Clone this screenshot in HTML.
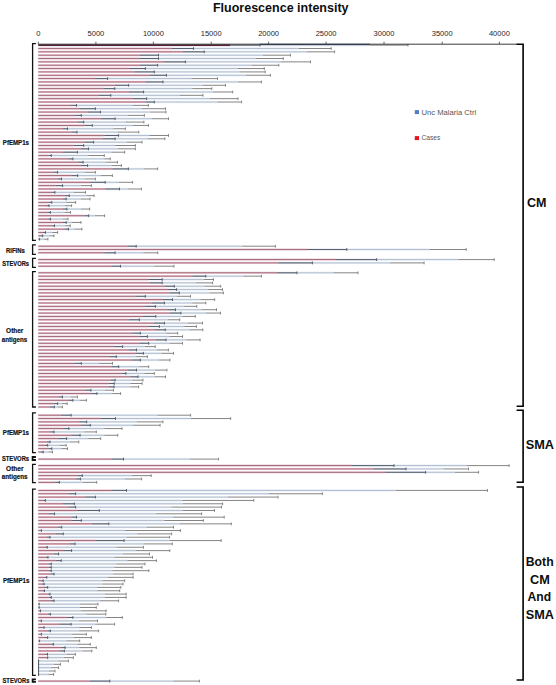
<!DOCTYPE html>
<html><head><meta charset="utf-8"><style>
html,body{margin:0;padding:0;background:#fff;}
body{width:556px;height:685px;overflow:hidden;position:relative;}
svg{position:absolute;left:0;top:0;}
.tk{font-family:"Liberation Sans",sans-serif;font-size:7px;fill:#262626;}
.lab{font-family:"Liberation Sans",sans-serif;font-weight:bold;font-size:6.7px;fill:#111;stroke:#111;stroke-width:0.18px;}
.big{font-family:"Liberation Sans",sans-serif;font-weight:bold;font-size:12.5px;fill:#0d0d0d;}
.leg{font-family:"Liberation Sans",sans-serif;font-size:7.9px;fill:#555;}
</style></head><body>
<svg width="556" height="685" viewBox="0 0 556 685">
<rect x="38.3" y="43.95" width="331.70" height="2.4" fill="#eaf0f8"/>
<rect x="38.3" y="44.70" width="331.70" height="0.9" fill="#adb9ca"/>
<rect x="38.3" y="47.29" width="260.70" height="2.4" fill="#eaf0f8"/>
<rect x="38.3" y="48.04" width="260.70" height="0.9" fill="#adb9ca"/>
<rect x="38.3" y="50.64" width="268.70" height="2.4" fill="#eaf0f8"/>
<rect x="38.3" y="51.39" width="268.70" height="0.9" fill="#adb9ca"/>
<rect x="38.3" y="53.98" width="224.70" height="2.4" fill="#eaf0f8"/>
<rect x="38.3" y="54.73" width="224.70" height="0.9" fill="#adb9ca"/>
<rect x="38.3" y="57.33" width="217.70" height="2.4" fill="#eaf0f8"/>
<rect x="38.3" y="58.08" width="217.70" height="0.9" fill="#adb9ca"/>
<rect x="38.3" y="60.67" width="242.70" height="2.4" fill="#eaf0f8"/>
<rect x="38.3" y="61.42" width="242.70" height="0.9" fill="#adb9ca"/>
<rect x="38.3" y="64.02" width="213.20" height="2.4" fill="#eaf0f8"/>
<rect x="38.3" y="64.77" width="213.20" height="0.9" fill="#adb9ca"/>
<rect x="38.3" y="67.36" width="199.70" height="2.4" fill="#eaf0f8"/>
<rect x="38.3" y="68.11" width="199.70" height="0.9" fill="#adb9ca"/>
<rect x="38.3" y="70.71" width="201.50" height="2.4" fill="#eaf0f8"/>
<rect x="38.3" y="71.46" width="201.50" height="0.9" fill="#adb9ca"/>
<rect x="38.3" y="74.05" width="207.70" height="2.4" fill="#eaf0f8"/>
<rect x="38.3" y="74.80" width="207.70" height="0.9" fill="#adb9ca"/>
<rect x="38.3" y="77.40" width="153.00" height="2.4" fill="#eaf0f8"/>
<rect x="38.3" y="78.15" width="153.00" height="0.9" fill="#adb9ca"/>
<rect x="38.3" y="80.74" width="199.70" height="2.4" fill="#eaf0f8"/>
<rect x="38.3" y="81.49" width="199.70" height="0.9" fill="#adb9ca"/>
<rect x="38.3" y="84.09" width="164.70" height="2.4" fill="#eaf0f8"/>
<rect x="38.3" y="84.84" width="164.70" height="0.9" fill="#adb9ca"/>
<rect x="38.3" y="87.43" width="153.90" height="2.4" fill="#eaf0f8"/>
<rect x="38.3" y="88.18" width="153.90" height="0.9" fill="#adb9ca"/>
<rect x="38.3" y="90.78" width="174.60" height="2.4" fill="#eaf0f8"/>
<rect x="38.3" y="91.53" width="174.60" height="0.9" fill="#adb9ca"/>
<rect x="38.3" y="94.12" width="141.30" height="2.4" fill="#eaf0f8"/>
<rect x="38.3" y="94.88" width="141.30" height="0.9" fill="#adb9ca"/>
<rect x="38.3" y="97.47" width="171.70" height="2.4" fill="#eaf0f8"/>
<rect x="38.3" y="98.22" width="171.70" height="0.9" fill="#adb9ca"/>
<rect x="38.3" y="100.81" width="179.10" height="2.4" fill="#eaf0f8"/>
<rect x="38.3" y="101.56" width="179.10" height="0.9" fill="#adb9ca"/>
<rect x="38.3" y="104.16" width="94.70" height="2.4" fill="#eaf0f8"/>
<rect x="38.3" y="104.91" width="94.70" height="0.9" fill="#adb9ca"/>
<rect x="38.3" y="107.51" width="103.70" height="2.4" fill="#eaf0f8"/>
<rect x="38.3" y="108.26" width="103.70" height="0.9" fill="#adb9ca"/>
<rect x="38.3" y="110.85" width="111.90" height="2.4" fill="#eaf0f8"/>
<rect x="38.3" y="111.60" width="111.90" height="0.9" fill="#adb9ca"/>
<rect x="38.3" y="114.20" width="89.40" height="2.4" fill="#eaf0f8"/>
<rect x="38.3" y="114.95" width="89.40" height="0.9" fill="#adb9ca"/>
<rect x="38.3" y="117.54" width="113.70" height="2.4" fill="#eaf0f8"/>
<rect x="38.3" y="118.29" width="113.70" height="0.9" fill="#adb9ca"/>
<rect x="38.3" y="120.89" width="87.60" height="2.4" fill="#eaf0f8"/>
<rect x="38.3" y="121.64" width="87.60" height="0.9" fill="#adb9ca"/>
<rect x="38.3" y="124.23" width="94.70" height="2.4" fill="#eaf0f8"/>
<rect x="38.3" y="124.98" width="94.70" height="0.9" fill="#adb9ca"/>
<rect x="38.3" y="127.58" width="75.00" height="2.4" fill="#eaf0f8"/>
<rect x="38.3" y="128.33" width="75.00" height="0.9" fill="#adb9ca"/>
<rect x="38.3" y="130.92" width="79.50" height="2.4" fill="#eaf0f8"/>
<rect x="38.3" y="131.67" width="79.50" height="0.9" fill="#adb9ca"/>
<rect x="38.3" y="134.27" width="111.00" height="2.4" fill="#eaf0f8"/>
<rect x="38.3" y="135.02" width="111.00" height="0.9" fill="#adb9ca"/>
<rect x="38.3" y="137.61" width="109.20" height="2.4" fill="#eaf0f8"/>
<rect x="38.3" y="138.36" width="109.20" height="0.9" fill="#adb9ca"/>
<rect x="38.3" y="140.96" width="88.50" height="2.4" fill="#eaf0f8"/>
<rect x="38.3" y="141.71" width="88.50" height="0.9" fill="#adb9ca"/>
<rect x="38.3" y="144.30" width="76.80" height="2.4" fill="#eaf0f8"/>
<rect x="38.3" y="145.05" width="76.80" height="0.9" fill="#adb9ca"/>
<rect x="38.3" y="147.65" width="79.70" height="2.4" fill="#eaf0f8"/>
<rect x="38.3" y="148.40" width="79.70" height="0.9" fill="#adb9ca"/>
<rect x="38.3" y="150.99" width="73.20" height="2.4" fill="#eaf0f8"/>
<rect x="38.3" y="151.74" width="73.20" height="0.9" fill="#adb9ca"/>
<rect x="38.3" y="154.34" width="49.90" height="2.4" fill="#eaf0f8"/>
<rect x="38.3" y="155.09" width="49.90" height="0.9" fill="#adb9ca"/>
<rect x="38.3" y="157.68" width="66.00" height="2.4" fill="#eaf0f8"/>
<rect x="38.3" y="158.43" width="66.00" height="0.9" fill="#adb9ca"/>
<rect x="38.3" y="161.03" width="67.70" height="2.4" fill="#eaf0f8"/>
<rect x="38.3" y="161.78" width="67.70" height="0.9" fill="#adb9ca"/>
<rect x="38.3" y="164.37" width="73.20" height="2.4" fill="#eaf0f8"/>
<rect x="38.3" y="165.12" width="73.20" height="0.9" fill="#adb9ca"/>
<rect x="38.3" y="167.72" width="105.70" height="2.4" fill="#eaf0f8"/>
<rect x="38.3" y="168.47" width="105.70" height="0.9" fill="#adb9ca"/>
<rect x="38.3" y="171.06" width="46.30" height="2.4" fill="#eaf0f8"/>
<rect x="38.3" y="171.81" width="46.30" height="0.9" fill="#adb9ca"/>
<rect x="38.3" y="174.41" width="62.40" height="2.4" fill="#eaf0f8"/>
<rect x="38.3" y="175.16" width="62.40" height="0.9" fill="#adb9ca"/>
<rect x="38.3" y="177.75" width="46.30" height="2.4" fill="#eaf0f8"/>
<rect x="38.3" y="178.50" width="46.30" height="0.9" fill="#adb9ca"/>
<rect x="38.3" y="181.10" width="80.40" height="2.4" fill="#eaf0f8"/>
<rect x="38.3" y="181.85" width="80.40" height="0.9" fill="#adb9ca"/>
<rect x="38.3" y="184.44" width="42.70" height="2.4" fill="#eaf0f8"/>
<rect x="38.3" y="185.19" width="42.70" height="0.9" fill="#adb9ca"/>
<rect x="38.3" y="187.79" width="89.60" height="2.4" fill="#eaf0f8"/>
<rect x="38.3" y="188.54" width="89.60" height="0.9" fill="#adb9ca"/>
<rect x="38.3" y="191.13" width="35.50" height="2.4" fill="#eaf0f8"/>
<rect x="38.3" y="191.88" width="35.50" height="0.9" fill="#adb9ca"/>
<rect x="38.3" y="194.48" width="48.10" height="2.4" fill="#eaf0f8"/>
<rect x="38.3" y="195.23" width="48.10" height="0.9" fill="#adb9ca"/>
<rect x="38.3" y="197.82" width="42.70" height="2.4" fill="#eaf0f8"/>
<rect x="38.3" y="198.57" width="42.70" height="0.9" fill="#adb9ca"/>
<rect x="38.3" y="201.17" width="28.30" height="2.4" fill="#eaf0f8"/>
<rect x="38.3" y="201.92" width="28.30" height="0.9" fill="#adb9ca"/>
<rect x="38.3" y="204.51" width="26.50" height="2.4" fill="#eaf0f8"/>
<rect x="38.3" y="205.26" width="26.50" height="0.9" fill="#adb9ca"/>
<rect x="38.3" y="207.86" width="42.70" height="2.4" fill="#eaf0f8"/>
<rect x="38.3" y="208.61" width="42.70" height="0.9" fill="#adb9ca"/>
<rect x="38.3" y="211.20" width="26.50" height="2.4" fill="#eaf0f8"/>
<rect x="38.3" y="211.95" width="26.50" height="0.9" fill="#adb9ca"/>
<rect x="38.3" y="214.55" width="56.70" height="2.4" fill="#eaf0f8"/>
<rect x="38.3" y="215.30" width="56.70" height="0.9" fill="#adb9ca"/>
<rect x="38.3" y="217.89" width="24.70" height="2.4" fill="#eaf0f8"/>
<rect x="38.3" y="218.64" width="24.70" height="0.9" fill="#adb9ca"/>
<rect x="38.3" y="221.24" width="33.70" height="2.4" fill="#eaf0f8"/>
<rect x="38.3" y="221.99" width="33.70" height="0.9" fill="#adb9ca"/>
<rect x="38.3" y="224.58" width="26.50" height="2.4" fill="#eaf0f8"/>
<rect x="38.3" y="225.33" width="26.50" height="0.9" fill="#adb9ca"/>
<rect x="38.3" y="227.93" width="36.40" height="2.4" fill="#eaf0f8"/>
<rect x="38.3" y="228.68" width="36.40" height="0.9" fill="#adb9ca"/>
<rect x="38.3" y="231.27" width="13.90" height="2.4" fill="#eaf0f8"/>
<rect x="38.3" y="232.02" width="13.90" height="0.9" fill="#adb9ca"/>
<rect x="38.3" y="234.62" width="11.20" height="2.4" fill="#eaf0f8"/>
<rect x="38.3" y="235.37" width="11.20" height="0.9" fill="#adb9ca"/>
<rect x="38.3" y="237.96" width="5.80" height="2.4" fill="#eaf0f8"/>
<rect x="38.3" y="238.71" width="5.80" height="0.9" fill="#adb9ca"/>
<rect x="38.3" y="245.00" width="204.00" height="2.4" fill="#eaf0f8"/>
<rect x="38.3" y="245.75" width="204.00" height="0.9" fill="#adb9ca"/>
<rect x="38.3" y="248.30" width="391.20" height="2.4" fill="#eaf0f8"/>
<rect x="38.3" y="249.05" width="391.20" height="0.9" fill="#adb9ca"/>
<rect x="38.3" y="251.60" width="105.10" height="2.4" fill="#eaf0f8"/>
<rect x="38.3" y="252.35" width="105.10" height="0.9" fill="#adb9ca"/>
<rect x="38.3" y="258.40" width="420.00" height="2.4" fill="#eaf0f8"/>
<rect x="38.3" y="259.15" width="420.00" height="0.9" fill="#adb9ca"/>
<rect x="38.3" y="261.70" width="351.70" height="2.4" fill="#eaf0f8"/>
<rect x="38.3" y="262.45" width="351.70" height="0.9" fill="#adb9ca"/>
<rect x="38.3" y="265.00" width="115.90" height="2.4" fill="#eaf0f8"/>
<rect x="38.3" y="265.75" width="115.90" height="0.9" fill="#adb9ca"/>
<rect x="38.3" y="271.60" width="295.40" height="2.4" fill="#eaf0f8"/>
<rect x="38.3" y="272.35" width="295.40" height="0.9" fill="#adb9ca"/>
<rect x="38.3" y="274.96" width="205.20" height="2.4" fill="#eaf0f8"/>
<rect x="38.3" y="275.71" width="205.20" height="0.9" fill="#adb9ca"/>
<rect x="38.3" y="278.31" width="165.70" height="2.4" fill="#eaf0f8"/>
<rect x="38.3" y="279.06" width="165.70" height="0.9" fill="#adb9ca"/>
<rect x="38.3" y="281.67" width="157.60" height="2.4" fill="#eaf0f8"/>
<rect x="38.3" y="282.42" width="157.60" height="0.9" fill="#adb9ca"/>
<rect x="38.3" y="285.02" width="166.70" height="2.4" fill="#eaf0f8"/>
<rect x="38.3" y="285.77" width="166.70" height="0.9" fill="#adb9ca"/>
<rect x="38.3" y="288.38" width="169.30" height="2.4" fill="#eaf0f8"/>
<rect x="38.3" y="289.12" width="169.30" height="0.9" fill="#adb9ca"/>
<rect x="38.3" y="291.73" width="171.10" height="2.4" fill="#eaf0f8"/>
<rect x="38.3" y="292.48" width="171.10" height="0.9" fill="#adb9ca"/>
<rect x="38.3" y="295.09" width="138.70" height="2.4" fill="#eaf0f8"/>
<rect x="38.3" y="295.84" width="138.70" height="0.9" fill="#adb9ca"/>
<rect x="38.3" y="298.44" width="162.10" height="2.4" fill="#eaf0f8"/>
<rect x="38.3" y="299.19" width="162.10" height="0.9" fill="#adb9ca"/>
<rect x="38.3" y="301.80" width="154.00" height="2.4" fill="#eaf0f8"/>
<rect x="38.3" y="302.55" width="154.00" height="0.9" fill="#adb9ca"/>
<rect x="38.3" y="305.15" width="145.90" height="2.4" fill="#eaf0f8"/>
<rect x="38.3" y="305.90" width="145.90" height="0.9" fill="#adb9ca"/>
<rect x="38.3" y="308.51" width="163.00" height="2.4" fill="#eaf0f8"/>
<rect x="38.3" y="309.26" width="163.00" height="0.9" fill="#adb9ca"/>
<rect x="38.3" y="311.86" width="167.50" height="2.4" fill="#eaf0f8"/>
<rect x="38.3" y="312.61" width="167.50" height="0.9" fill="#adb9ca"/>
<rect x="38.3" y="315.22" width="144.10" height="2.4" fill="#eaf0f8"/>
<rect x="38.3" y="315.97" width="144.10" height="0.9" fill="#adb9ca"/>
<rect x="38.3" y="318.57" width="129.70" height="2.4" fill="#eaf0f8"/>
<rect x="38.3" y="319.32" width="129.70" height="0.9" fill="#adb9ca"/>
<rect x="38.3" y="321.93" width="149.50" height="2.4" fill="#eaf0f8"/>
<rect x="38.3" y="322.68" width="149.50" height="0.9" fill="#adb9ca"/>
<rect x="38.3" y="325.28" width="145.90" height="2.4" fill="#eaf0f8"/>
<rect x="38.3" y="326.03" width="145.90" height="0.9" fill="#adb9ca"/>
<rect x="38.3" y="328.64" width="151.10" height="2.4" fill="#eaf0f8"/>
<rect x="38.3" y="329.39" width="151.10" height="0.9" fill="#adb9ca"/>
<rect x="38.3" y="331.99" width="127.70" height="2.4" fill="#eaf0f8"/>
<rect x="38.3" y="332.74" width="127.70" height="0.9" fill="#adb9ca"/>
<rect x="38.3" y="335.35" width="131.30" height="2.4" fill="#eaf0f8"/>
<rect x="38.3" y="336.10" width="131.30" height="0.9" fill="#adb9ca"/>
<rect x="38.3" y="338.70" width="148.40" height="2.4" fill="#eaf0f8"/>
<rect x="38.3" y="339.45" width="148.40" height="0.9" fill="#adb9ca"/>
<rect x="38.3" y="342.06" width="131.30" height="2.4" fill="#eaf0f8"/>
<rect x="38.3" y="342.81" width="131.30" height="0.9" fill="#adb9ca"/>
<rect x="38.3" y="345.41" width="106.40" height="2.4" fill="#eaf0f8"/>
<rect x="38.3" y="346.16" width="106.40" height="0.9" fill="#adb9ca"/>
<rect x="38.3" y="348.77" width="118.70" height="2.4" fill="#eaf0f8"/>
<rect x="38.3" y="349.52" width="118.70" height="0.9" fill="#adb9ca"/>
<rect x="38.3" y="352.12" width="123.20" height="2.4" fill="#eaf0f8"/>
<rect x="38.3" y="352.87" width="123.20" height="0.9" fill="#adb9ca"/>
<rect x="38.3" y="355.48" width="97.50" height="2.4" fill="#eaf0f8"/>
<rect x="38.3" y="356.23" width="97.50" height="0.9" fill="#adb9ca"/>
<rect x="38.3" y="358.83" width="120.50" height="2.4" fill="#eaf0f8"/>
<rect x="38.3" y="359.58" width="120.50" height="0.9" fill="#adb9ca"/>
<rect x="38.3" y="362.19" width="60.50" height="2.4" fill="#eaf0f8"/>
<rect x="38.3" y="362.94" width="60.50" height="0.9" fill="#adb9ca"/>
<rect x="38.3" y="365.54" width="101.10" height="2.4" fill="#eaf0f8"/>
<rect x="38.3" y="366.29" width="101.10" height="0.9" fill="#adb9ca"/>
<rect x="38.3" y="368.90" width="116.90" height="2.4" fill="#eaf0f8"/>
<rect x="38.3" y="369.65" width="116.90" height="0.9" fill="#adb9ca"/>
<rect x="38.3" y="372.25" width="106.10" height="2.4" fill="#eaf0f8"/>
<rect x="38.3" y="373.00" width="106.10" height="0.9" fill="#adb9ca"/>
<rect x="38.3" y="375.61" width="116.70" height="2.4" fill="#eaf0f8"/>
<rect x="38.3" y="376.36" width="116.70" height="0.9" fill="#adb9ca"/>
<rect x="38.3" y="378.96" width="93.90" height="2.4" fill="#eaf0f8"/>
<rect x="38.3" y="379.71" width="93.90" height="0.9" fill="#adb9ca"/>
<rect x="38.3" y="382.31" width="92.10" height="2.4" fill="#eaf0f8"/>
<rect x="38.3" y="383.06" width="92.10" height="0.9" fill="#adb9ca"/>
<rect x="38.3" y="385.67" width="91.80" height="2.4" fill="#eaf0f8"/>
<rect x="38.3" y="386.42" width="91.80" height="0.9" fill="#adb9ca"/>
<rect x="38.3" y="389.03" width="66.70" height="2.4" fill="#eaf0f8"/>
<rect x="38.3" y="389.78" width="66.70" height="0.9" fill="#adb9ca"/>
<rect x="38.3" y="392.38" width="73.90" height="2.4" fill="#eaf0f8"/>
<rect x="38.3" y="393.13" width="73.90" height="0.9" fill="#adb9ca"/>
<rect x="38.3" y="395.74" width="32.50" height="2.4" fill="#eaf0f8"/>
<rect x="38.3" y="396.49" width="32.50" height="0.9" fill="#adb9ca"/>
<rect x="38.3" y="399.09" width="41.50" height="2.4" fill="#eaf0f8"/>
<rect x="38.3" y="399.84" width="41.50" height="0.9" fill="#adb9ca"/>
<rect x="38.3" y="402.44" width="23.70" height="2.4" fill="#eaf0f8"/>
<rect x="38.3" y="403.19" width="23.70" height="0.9" fill="#adb9ca"/>
<rect x="38.3" y="405.80" width="19.70" height="2.4" fill="#eaf0f8"/>
<rect x="38.3" y="406.55" width="19.70" height="0.9" fill="#adb9ca"/>
<rect x="38.3" y="414.00" width="119.20" height="2.4" fill="#eaf0f8"/>
<rect x="38.3" y="414.75" width="119.20" height="0.9" fill="#adb9ca"/>
<rect x="38.3" y="417.35" width="152.70" height="2.4" fill="#eaf0f8"/>
<rect x="38.3" y="418.10" width="152.70" height="0.9" fill="#adb9ca"/>
<rect x="38.3" y="420.69" width="98.70" height="2.4" fill="#eaf0f8"/>
<rect x="38.3" y="421.44" width="98.70" height="0.9" fill="#adb9ca"/>
<rect x="38.3" y="424.04" width="94.40" height="2.4" fill="#eaf0f8"/>
<rect x="38.3" y="424.79" width="94.40" height="0.9" fill="#adb9ca"/>
<rect x="38.3" y="427.38" width="66.00" height="2.4" fill="#eaf0f8"/>
<rect x="38.3" y="428.13" width="66.00" height="0.9" fill="#adb9ca"/>
<rect x="38.3" y="430.73" width="46.30" height="2.4" fill="#eaf0f8"/>
<rect x="38.3" y="431.48" width="46.30" height="0.9" fill="#adb9ca"/>
<rect x="38.3" y="434.07" width="66.00" height="2.4" fill="#eaf0f8"/>
<rect x="38.3" y="434.82" width="66.00" height="0.9" fill="#adb9ca"/>
<rect x="38.3" y="437.42" width="49.90" height="2.4" fill="#eaf0f8"/>
<rect x="38.3" y="438.17" width="49.90" height="0.9" fill="#adb9ca"/>
<rect x="38.3" y="440.76" width="31.90" height="2.4" fill="#eaf0f8"/>
<rect x="38.3" y="441.51" width="31.90" height="0.9" fill="#adb9ca"/>
<rect x="38.3" y="444.11" width="21.10" height="2.4" fill="#eaf0f8"/>
<rect x="38.3" y="444.86" width="21.10" height="0.9" fill="#adb9ca"/>
<rect x="38.3" y="447.45" width="22.90" height="2.4" fill="#eaf0f8"/>
<rect x="38.3" y="448.20" width="22.90" height="0.9" fill="#adb9ca"/>
<rect x="38.3" y="450.80" width="10.30" height="2.4" fill="#eaf0f8"/>
<rect x="38.3" y="451.55" width="10.30" height="0.9" fill="#adb9ca"/>
<rect x="38.3" y="457.90" width="151.60" height="2.4" fill="#eaf0f8"/>
<rect x="38.3" y="458.65" width="151.60" height="0.9" fill="#adb9ca"/>
<rect x="38.3" y="464.40" width="428.20" height="2.4" fill="#eaf0f8"/>
<rect x="38.3" y="465.15" width="428.20" height="0.9" fill="#adb9ca"/>
<rect x="38.3" y="467.75" width="405.20" height="2.4" fill="#eaf0f8"/>
<rect x="38.3" y="468.50" width="405.20" height="0.9" fill="#adb9ca"/>
<rect x="38.3" y="471.09" width="416.70" height="2.4" fill="#eaf0f8"/>
<rect x="38.3" y="471.84" width="416.70" height="0.9" fill="#adb9ca"/>
<rect x="38.3" y="474.44" width="93.50" height="2.4" fill="#eaf0f8"/>
<rect x="38.3" y="475.19" width="93.50" height="0.9" fill="#adb9ca"/>
<rect x="38.3" y="477.78" width="86.50" height="2.4" fill="#eaf0f8"/>
<rect x="38.3" y="478.53" width="86.50" height="0.9" fill="#adb9ca"/>
<rect x="38.3" y="481.13" width="44.40" height="2.4" fill="#eaf0f8"/>
<rect x="38.3" y="481.88" width="44.40" height="0.9" fill="#adb9ca"/>
<rect x="38.3" y="489.20" width="357.70" height="2.4" fill="#eaf0f8"/>
<rect x="38.3" y="489.95" width="357.70" height="0.9" fill="#adb9ca"/>
<rect x="38.3" y="492.55" width="230.20" height="2.4" fill="#eaf0f8"/>
<rect x="38.3" y="493.30" width="230.20" height="0.9" fill="#adb9ca"/>
<rect x="38.3" y="495.89" width="189.70" height="2.4" fill="#eaf0f8"/>
<rect x="38.3" y="496.64" width="189.70" height="0.9" fill="#adb9ca"/>
<rect x="38.3" y="499.24" width="143.90" height="2.4" fill="#eaf0f8"/>
<rect x="38.3" y="499.99" width="143.90" height="0.9" fill="#adb9ca"/>
<rect x="38.3" y="502.58" width="144.70" height="2.4" fill="#eaf0f8"/>
<rect x="38.3" y="503.33" width="144.70" height="0.9" fill="#adb9ca"/>
<rect x="38.3" y="505.93" width="133.10" height="2.4" fill="#eaf0f8"/>
<rect x="38.3" y="506.68" width="133.10" height="0.9" fill="#adb9ca"/>
<rect x="38.3" y="509.27" width="144.70" height="2.4" fill="#eaf0f8"/>
<rect x="38.3" y="510.02" width="144.70" height="0.9" fill="#adb9ca"/>
<rect x="38.3" y="512.61" width="117.70" height="2.4" fill="#eaf0f8"/>
<rect x="38.3" y="513.36" width="117.70" height="0.9" fill="#adb9ca"/>
<rect x="38.3" y="515.96" width="134.90" height="2.4" fill="#eaf0f8"/>
<rect x="38.3" y="516.71" width="134.90" height="0.9" fill="#adb9ca"/>
<rect x="38.3" y="519.30" width="125.90" height="2.4" fill="#eaf0f8"/>
<rect x="38.3" y="520.05" width="125.90" height="0.9" fill="#adb9ca"/>
<rect x="38.3" y="522.65" width="141.20" height="2.4" fill="#eaf0f8"/>
<rect x="38.3" y="523.40" width="141.20" height="0.9" fill="#adb9ca"/>
<rect x="38.3" y="525.99" width="108.70" height="2.4" fill="#eaf0f8"/>
<rect x="38.3" y="526.74" width="108.70" height="0.9" fill="#adb9ca"/>
<rect x="38.3" y="529.34" width="86.70" height="2.4" fill="#eaf0f8"/>
<rect x="38.3" y="530.09" width="86.70" height="0.9" fill="#adb9ca"/>
<rect x="38.3" y="532.68" width="98.90" height="2.4" fill="#eaf0f8"/>
<rect x="38.3" y="533.43" width="98.90" height="0.9" fill="#adb9ca"/>
<rect x="38.3" y="536.03" width="88.50" height="2.4" fill="#eaf0f8"/>
<rect x="38.3" y="536.78" width="88.50" height="0.9" fill="#adb9ca"/>
<rect x="38.3" y="539.37" width="131.30" height="2.4" fill="#eaf0f8"/>
<rect x="38.3" y="540.12" width="131.30" height="0.9" fill="#adb9ca"/>
<rect x="38.3" y="542.72" width="105.20" height="2.4" fill="#eaf0f8"/>
<rect x="38.3" y="543.47" width="105.20" height="0.9" fill="#adb9ca"/>
<rect x="38.3" y="546.06" width="78.20" height="2.4" fill="#eaf0f8"/>
<rect x="38.3" y="546.81" width="78.20" height="0.9" fill="#adb9ca"/>
<rect x="38.3" y="549.41" width="97.70" height="2.4" fill="#eaf0f8"/>
<rect x="38.3" y="550.16" width="97.70" height="0.9" fill="#adb9ca"/>
<rect x="38.3" y="552.75" width="84.70" height="2.4" fill="#eaf0f8"/>
<rect x="38.3" y="553.50" width="84.70" height="0.9" fill="#adb9ca"/>
<rect x="38.3" y="556.10" width="76.00" height="2.4" fill="#eaf0f8"/>
<rect x="38.3" y="556.85" width="76.00" height="0.9" fill="#adb9ca"/>
<rect x="38.3" y="559.44" width="89.00" height="2.4" fill="#eaf0f8"/>
<rect x="38.3" y="560.19" width="89.00" height="0.9" fill="#adb9ca"/>
<rect x="38.3" y="562.79" width="78.20" height="2.4" fill="#eaf0f8"/>
<rect x="38.3" y="563.54" width="78.20" height="0.9" fill="#adb9ca"/>
<rect x="38.3" y="566.13" width="76.00" height="2.4" fill="#eaf0f8"/>
<rect x="38.3" y="566.88" width="76.00" height="0.9" fill="#adb9ca"/>
<rect x="38.3" y="569.48" width="73.90" height="2.4" fill="#eaf0f8"/>
<rect x="38.3" y="570.23" width="73.90" height="0.9" fill="#adb9ca"/>
<rect x="38.3" y="572.82" width="75.00" height="2.4" fill="#eaf0f8"/>
<rect x="38.3" y="573.57" width="75.00" height="0.9" fill="#adb9ca"/>
<rect x="38.3" y="576.17" width="69.70" height="2.4" fill="#eaf0f8"/>
<rect x="38.3" y="576.92" width="69.70" height="0.9" fill="#adb9ca"/>
<rect x="38.3" y="579.51" width="64.20" height="2.4" fill="#eaf0f8"/>
<rect x="38.3" y="580.26" width="64.20" height="0.9" fill="#adb9ca"/>
<rect x="38.3" y="582.86" width="64.20" height="2.4" fill="#eaf0f8"/>
<rect x="38.3" y="583.61" width="64.20" height="0.9" fill="#adb9ca"/>
<rect x="38.3" y="586.20" width="58.90" height="2.4" fill="#eaf0f8"/>
<rect x="38.3" y="586.95" width="58.90" height="0.9" fill="#adb9ca"/>
<rect x="38.3" y="589.55" width="58.90" height="2.4" fill="#eaf0f8"/>
<rect x="38.3" y="590.30" width="58.90" height="0.9" fill="#adb9ca"/>
<rect x="38.3" y="592.89" width="66.70" height="2.4" fill="#eaf0f8"/>
<rect x="38.3" y="593.64" width="66.70" height="0.9" fill="#adb9ca"/>
<rect x="38.3" y="596.24" width="66.70" height="2.4" fill="#eaf0f8"/>
<rect x="38.3" y="596.99" width="66.70" height="0.9" fill="#adb9ca"/>
<rect x="38.3" y="599.58" width="61.70" height="2.4" fill="#eaf0f8"/>
<rect x="38.3" y="600.33" width="61.70" height="0.9" fill="#adb9ca"/>
<rect x="38.3" y="602.93" width="41.70" height="2.4" fill="#eaf0f8"/>
<rect x="38.3" y="603.68" width="41.70" height="0.9" fill="#adb9ca"/>
<rect x="38.3" y="606.27" width="41.70" height="2.4" fill="#eaf0f8"/>
<rect x="38.3" y="607.02" width="41.70" height="0.9" fill="#adb9ca"/>
<rect x="38.3" y="609.62" width="42.70" height="2.4" fill="#eaf0f8"/>
<rect x="38.3" y="610.37" width="42.70" height="0.9" fill="#adb9ca"/>
<rect x="38.3" y="612.96" width="48.10" height="2.4" fill="#eaf0f8"/>
<rect x="38.3" y="613.71" width="48.10" height="0.9" fill="#adb9ca"/>
<rect x="38.3" y="616.31" width="67.80" height="2.4" fill="#eaf0f8"/>
<rect x="38.3" y="617.06" width="67.80" height="0.9" fill="#adb9ca"/>
<rect x="38.3" y="619.65" width="40.90" height="2.4" fill="#eaf0f8"/>
<rect x="38.3" y="620.40" width="40.90" height="0.9" fill="#adb9ca"/>
<rect x="38.3" y="623.00" width="57.10" height="2.4" fill="#eaf0f8"/>
<rect x="38.3" y="623.75" width="57.10" height="0.9" fill="#adb9ca"/>
<rect x="38.3" y="626.34" width="40.90" height="2.4" fill="#eaf0f8"/>
<rect x="38.3" y="627.09" width="40.90" height="0.9" fill="#adb9ca"/>
<rect x="38.3" y="629.69" width="40.90" height="2.4" fill="#eaf0f8"/>
<rect x="38.3" y="630.44" width="40.90" height="0.9" fill="#adb9ca"/>
<rect x="38.3" y="633.03" width="33.70" height="2.4" fill="#eaf0f8"/>
<rect x="38.3" y="633.78" width="33.70" height="0.9" fill="#adb9ca"/>
<rect x="38.3" y="636.38" width="35.50" height="2.4" fill="#eaf0f8"/>
<rect x="38.3" y="637.13" width="35.50" height="0.9" fill="#adb9ca"/>
<rect x="38.3" y="639.72" width="28.30" height="2.4" fill="#eaf0f8"/>
<rect x="38.3" y="640.47" width="28.30" height="0.9" fill="#adb9ca"/>
<rect x="38.3" y="643.07" width="39.10" height="2.4" fill="#eaf0f8"/>
<rect x="38.3" y="643.82" width="39.10" height="0.9" fill="#adb9ca"/>
<rect x="38.3" y="646.41" width="40.90" height="2.4" fill="#eaf0f8"/>
<rect x="38.3" y="647.16" width="40.90" height="0.9" fill="#adb9ca"/>
<rect x="38.3" y="649.76" width="44.50" height="2.4" fill="#eaf0f8"/>
<rect x="38.3" y="650.51" width="44.50" height="0.9" fill="#adb9ca"/>
<rect x="38.3" y="653.10" width="28.30" height="2.4" fill="#eaf0f8"/>
<rect x="38.3" y="653.85" width="28.30" height="0.9" fill="#adb9ca"/>
<rect x="38.3" y="656.45" width="25.70" height="2.4" fill="#eaf0f8"/>
<rect x="38.3" y="657.20" width="25.70" height="0.9" fill="#adb9ca"/>
<rect x="38.3" y="659.79" width="20.00" height="2.4" fill="#eaf0f8"/>
<rect x="38.3" y="660.54" width="20.00" height="0.9" fill="#adb9ca"/>
<rect x="38.3" y="663.14" width="15.70" height="2.4" fill="#eaf0f8"/>
<rect x="38.3" y="663.89" width="15.70" height="0.9" fill="#adb9ca"/>
<rect x="38.3" y="666.48" width="12.80" height="2.4" fill="#eaf0f8"/>
<rect x="38.3" y="667.23" width="12.80" height="0.9" fill="#adb9ca"/>
<rect x="38.3" y="669.83" width="10.70" height="2.4" fill="#eaf0f8"/>
<rect x="38.3" y="670.58" width="10.70" height="0.9" fill="#adb9ca"/>
<rect x="38.3" y="673.17" width="10.20" height="2.4" fill="#eaf0f8"/>
<rect x="38.3" y="673.92" width="10.20" height="0.9" fill="#adb9ca"/>
<rect x="38.3" y="679.90" width="135.20" height="2.4" fill="#eaf0f8"/>
<rect x="38.3" y="680.65" width="135.20" height="0.9" fill="#adb9ca"/>
<rect x="38.3" y="44.25" width="191.70" height="1.8" fill="#5a2236"/>
<rect x="38.3" y="47.49" width="133.70" height="2.0" fill="#f3c8d3"/>
<rect x="38.3" y="48.09" width="133.70" height="0.8" fill="#925868"/>
<rect x="38.3" y="50.84" width="144.70" height="2.0" fill="#f3c8d3"/>
<rect x="38.3" y="51.44" width="144.70" height="0.8" fill="#925868"/>
<rect x="38.3" y="54.19" width="101.70" height="2.0" fill="#f3c8d3"/>
<rect x="38.3" y="54.79" width="101.70" height="0.8" fill="#925868"/>
<rect x="38.3" y="57.53" width="101.70" height="2.0" fill="#f3c8d3"/>
<rect x="38.3" y="58.13" width="101.70" height="0.8" fill="#925868"/>
<rect x="38.3" y="60.88" width="125.00" height="2.0" fill="#f3c8d3"/>
<rect x="38.3" y="61.48" width="125.00" height="0.8" fill="#925868"/>
<rect x="38.3" y="64.22" width="101.70" height="2.0" fill="#f3c8d3"/>
<rect x="38.3" y="64.82" width="101.70" height="0.8" fill="#925868"/>
<rect x="38.3" y="67.56" width="90.70" height="2.0" fill="#f3c8d3"/>
<rect x="38.3" y="68.16" width="90.70" height="0.8" fill="#925868"/>
<rect x="38.3" y="70.91" width="96.30" height="2.0" fill="#f3c8d3"/>
<rect x="38.3" y="71.51" width="96.30" height="0.8" fill="#925868"/>
<rect x="38.3" y="74.25" width="111.70" height="2.0" fill="#f3c8d3"/>
<rect x="38.3" y="74.85" width="111.70" height="0.8" fill="#925868"/>
<rect x="38.3" y="77.60" width="56.70" height="2.0" fill="#f3c8d3"/>
<rect x="38.3" y="78.20" width="56.70" height="0.8" fill="#925868"/>
<rect x="38.3" y="80.94" width="107.10" height="2.0" fill="#f3c8d3"/>
<rect x="38.3" y="81.54" width="107.10" height="0.8" fill="#925868"/>
<rect x="38.3" y="84.29" width="76.50" height="2.0" fill="#f3c8d3"/>
<rect x="38.3" y="84.89" width="76.50" height="0.8" fill="#925868"/>
<rect x="38.3" y="87.63" width="65.70" height="2.0" fill="#f3c8d3"/>
<rect x="38.3" y="88.23" width="65.70" height="0.8" fill="#925868"/>
<rect x="38.3" y="90.98" width="90.70" height="2.0" fill="#f3c8d3"/>
<rect x="38.3" y="91.58" width="90.70" height="0.8" fill="#925868"/>
<rect x="38.3" y="94.33" width="60.30" height="2.0" fill="#f3c8d3"/>
<rect x="38.3" y="94.92" width="60.30" height="0.8" fill="#925868"/>
<rect x="38.3" y="97.67" width="94.50" height="2.0" fill="#f3c8d3"/>
<rect x="38.3" y="98.27" width="94.50" height="0.8" fill="#925868"/>
<rect x="38.3" y="101.02" width="107.70" height="2.0" fill="#f3c8d3"/>
<rect x="38.3" y="101.61" width="107.70" height="0.8" fill="#925868"/>
<rect x="38.3" y="104.36" width="32.70" height="2.0" fill="#f3c8d3"/>
<rect x="38.3" y="104.96" width="32.70" height="0.8" fill="#925868"/>
<rect x="38.3" y="107.71" width="41.70" height="2.0" fill="#f3c8d3"/>
<rect x="38.3" y="108.31" width="41.70" height="0.8" fill="#925868"/>
<rect x="38.3" y="111.05" width="49.70" height="2.0" fill="#f3c8d3"/>
<rect x="38.3" y="111.65" width="49.70" height="0.8" fill="#925868"/>
<rect x="38.3" y="114.40" width="36.40" height="2.0" fill="#f3c8d3"/>
<rect x="38.3" y="115.00" width="36.40" height="0.8" fill="#925868"/>
<rect x="38.3" y="117.74" width="62.40" height="2.0" fill="#f3c8d3"/>
<rect x="38.3" y="118.34" width="62.40" height="0.8" fill="#925868"/>
<rect x="38.3" y="121.09" width="39.10" height="2.0" fill="#f3c8d3"/>
<rect x="38.3" y="121.69" width="39.10" height="0.8" fill="#925868"/>
<rect x="38.3" y="124.43" width="46.30" height="2.0" fill="#f3c8d3"/>
<rect x="38.3" y="125.03" width="46.30" height="0.8" fill="#925868"/>
<rect x="38.3" y="127.78" width="24.70" height="2.0" fill="#f3c8d3"/>
<rect x="38.3" y="128.38" width="24.70" height="0.8" fill="#925868"/>
<rect x="38.3" y="131.12" width="33.70" height="2.0" fill="#f3c8d3"/>
<rect x="38.3" y="131.72" width="33.70" height="0.8" fill="#925868"/>
<rect x="38.3" y="134.47" width="66.00" height="2.0" fill="#f3c8d3"/>
<rect x="38.3" y="135.06" width="66.00" height="0.8" fill="#925868"/>
<rect x="38.3" y="137.81" width="64.20" height="2.0" fill="#f3c8d3"/>
<rect x="38.3" y="138.41" width="64.20" height="0.8" fill="#925868"/>
<rect x="38.3" y="141.16" width="46.30" height="2.0" fill="#f3c8d3"/>
<rect x="38.3" y="141.75" width="46.30" height="0.8" fill="#925868"/>
<rect x="38.3" y="144.50" width="35.50" height="2.0" fill="#f3c8d3"/>
<rect x="38.3" y="145.10" width="35.50" height="0.8" fill="#925868"/>
<rect x="38.3" y="147.84" width="42.70" height="2.0" fill="#f3c8d3"/>
<rect x="38.3" y="148.44" width="42.70" height="0.8" fill="#925868"/>
<rect x="38.3" y="151.19" width="24.70" height="2.0" fill="#f3c8d3"/>
<rect x="38.3" y="151.79" width="24.70" height="0.8" fill="#925868"/>
<rect x="38.3" y="154.53" width="10.30" height="2.0" fill="#f3c8d3"/>
<rect x="38.3" y="155.13" width="10.30" height="0.8" fill="#925868"/>
<rect x="38.3" y="157.88" width="30.10" height="2.0" fill="#f3c8d3"/>
<rect x="38.3" y="158.48" width="30.10" height="0.8" fill="#925868"/>
<rect x="38.3" y="161.22" width="40.00" height="2.0" fill="#f3c8d3"/>
<rect x="38.3" y="161.82" width="40.00" height="0.8" fill="#925868"/>
<rect x="38.3" y="164.57" width="42.70" height="2.0" fill="#f3c8d3"/>
<rect x="38.3" y="165.17" width="42.70" height="0.8" fill="#925868"/>
<rect x="38.3" y="167.91" width="74.30" height="2.0" fill="#f3c8d3"/>
<rect x="38.3" y="168.51" width="74.30" height="0.8" fill="#925868"/>
<rect x="38.3" y="171.26" width="15.70" height="2.0" fill="#f3c8d3"/>
<rect x="38.3" y="171.86" width="15.70" height="0.8" fill="#925868"/>
<rect x="38.3" y="174.61" width="33.70" height="2.0" fill="#f3c8d3"/>
<rect x="38.3" y="175.21" width="33.70" height="0.8" fill="#925868"/>
<rect x="38.3" y="177.95" width="19.30" height="2.0" fill="#f3c8d3"/>
<rect x="38.3" y="178.55" width="19.30" height="0.8" fill="#925868"/>
<rect x="38.3" y="181.30" width="51.70" height="2.0" fill="#f3c8d3"/>
<rect x="38.3" y="181.90" width="51.70" height="0.8" fill="#925868"/>
<rect x="38.3" y="184.64" width="17.50" height="2.0" fill="#f3c8d3"/>
<rect x="38.3" y="185.24" width="17.50" height="0.8" fill="#925868"/>
<rect x="38.3" y="187.99" width="67.10" height="2.0" fill="#f3c8d3"/>
<rect x="38.3" y="188.59" width="67.10" height="0.8" fill="#925868"/>
<rect x="38.3" y="191.33" width="13.00" height="2.0" fill="#f3c8d3"/>
<rect x="38.3" y="191.93" width="13.00" height="0.8" fill="#925868"/>
<rect x="38.3" y="194.68" width="26.50" height="2.0" fill="#f3c8d3"/>
<rect x="38.3" y="195.28" width="26.50" height="0.8" fill="#925868"/>
<rect x="38.3" y="198.02" width="24.70" height="2.0" fill="#f3c8d3"/>
<rect x="38.3" y="198.62" width="24.70" height="0.8" fill="#925868"/>
<rect x="38.3" y="201.37" width="10.30" height="2.0" fill="#f3c8d3"/>
<rect x="38.3" y="201.97" width="10.30" height="0.8" fill="#925868"/>
<rect x="38.3" y="204.71" width="8.50" height="2.0" fill="#f3c8d3"/>
<rect x="38.3" y="205.31" width="8.50" height="0.8" fill="#925868"/>
<rect x="38.3" y="208.06" width="24.70" height="2.0" fill="#f3c8d3"/>
<rect x="38.3" y="208.66" width="24.70" height="0.8" fill="#925868"/>
<rect x="38.3" y="211.40" width="9.40" height="2.0" fill="#f3c8d3"/>
<rect x="38.3" y="212.00" width="9.40" height="0.8" fill="#925868"/>
<rect x="38.3" y="214.75" width="46.30" height="2.0" fill="#f3c8d3"/>
<rect x="38.3" y="215.34" width="46.30" height="0.8" fill="#925868"/>
<rect x="38.3" y="218.09" width="10.30" height="2.0" fill="#f3c8d3"/>
<rect x="38.3" y="218.69" width="10.30" height="0.8" fill="#925868"/>
<rect x="38.3" y="221.44" width="24.70" height="2.0" fill="#f3c8d3"/>
<rect x="38.3" y="222.03" width="24.70" height="0.8" fill="#925868"/>
<rect x="38.3" y="224.78" width="13.90" height="2.0" fill="#f3c8d3"/>
<rect x="38.3" y="225.38" width="13.90" height="0.8" fill="#925868"/>
<rect x="38.3" y="228.13" width="26.50" height="2.0" fill="#f3c8d3"/>
<rect x="38.3" y="228.73" width="26.50" height="0.8" fill="#925868"/>
<rect x="38.3" y="231.47" width="4.90" height="2.0" fill="#f3c8d3"/>
<rect x="38.3" y="232.07" width="4.90" height="0.8" fill="#925868"/>
<rect x="38.3" y="234.82" width="2.20" height="2.0" fill="#f3c8d3"/>
<rect x="38.3" y="235.42" width="2.20" height="0.8" fill="#925868"/>
<rect x="38.3" y="238.16" width="0.40" height="2.0" fill="#f3c8d3"/>
<rect x="38.3" y="238.76" width="0.40" height="0.8" fill="#925868"/>
<rect x="38.3" y="245.20" width="89.70" height="2.0" fill="#f3c8d3"/>
<rect x="38.3" y="245.80" width="89.70" height="0.8" fill="#925868"/>
<rect x="38.3" y="248.50" width="268.90" height="2.0" fill="#f3c8d3"/>
<rect x="38.3" y="249.10" width="268.90" height="0.8" fill="#925868"/>
<rect x="38.3" y="251.80" width="66.00" height="2.0" fill="#f3c8d3"/>
<rect x="38.3" y="252.40" width="66.00" height="0.8" fill="#925868"/>
<rect x="38.3" y="258.60" width="297.70" height="2.0" fill="#f3c8d3"/>
<rect x="38.3" y="259.20" width="297.70" height="0.8" fill="#925868"/>
<rect x="38.3" y="261.90" width="240.00" height="2.0" fill="#f3c8d3"/>
<rect x="38.3" y="262.50" width="240.00" height="0.8" fill="#925868"/>
<rect x="38.3" y="265.20" width="73.20" height="2.0" fill="#f3c8d3"/>
<rect x="38.3" y="265.80" width="73.20" height="0.8" fill="#925868"/>
<rect x="38.3" y="271.80" width="238.50" height="2.0" fill="#f3c8d3"/>
<rect x="38.3" y="272.40" width="238.50" height="0.8" fill="#925868"/>
<rect x="38.3" y="275.16" width="154.00" height="2.0" fill="#f3c8d3"/>
<rect x="38.3" y="275.76" width="154.00" height="0.8" fill="#925868"/>
<rect x="38.3" y="278.51" width="110.00" height="2.0" fill="#f3c8d3"/>
<rect x="38.3" y="279.11" width="110.00" height="0.8" fill="#925868"/>
<rect x="38.3" y="281.87" width="111.70" height="2.0" fill="#f3c8d3"/>
<rect x="38.3" y="282.47" width="111.70" height="0.8" fill="#925868"/>
<rect x="38.3" y="285.22" width="126.20" height="2.0" fill="#f3c8d3"/>
<rect x="38.3" y="285.82" width="126.20" height="0.8" fill="#925868"/>
<rect x="38.3" y="288.57" width="129.70" height="2.0" fill="#f3c8d3"/>
<rect x="38.3" y="289.18" width="129.70" height="0.8" fill="#925868"/>
<rect x="38.3" y="291.93" width="131.70" height="2.0" fill="#f3c8d3"/>
<rect x="38.3" y="292.53" width="131.70" height="0.8" fill="#925868"/>
<rect x="38.3" y="295.29" width="97.50" height="2.0" fill="#f3c8d3"/>
<rect x="38.3" y="295.89" width="97.50" height="0.8" fill="#925868"/>
<rect x="38.3" y="298.64" width="124.40" height="2.0" fill="#f3c8d3"/>
<rect x="38.3" y="299.24" width="124.40" height="0.8" fill="#925868"/>
<rect x="38.3" y="302.00" width="113.70" height="2.0" fill="#f3c8d3"/>
<rect x="38.3" y="302.60" width="113.70" height="0.8" fill="#925868"/>
<rect x="38.3" y="305.35" width="106.40" height="2.0" fill="#f3c8d3"/>
<rect x="38.3" y="305.95" width="106.40" height="0.8" fill="#925868"/>
<rect x="38.3" y="308.71" width="129.70" height="2.0" fill="#f3c8d3"/>
<rect x="38.3" y="309.31" width="129.70" height="0.8" fill="#925868"/>
<rect x="38.3" y="312.06" width="131.70" height="2.0" fill="#f3c8d3"/>
<rect x="38.3" y="312.66" width="131.70" height="0.8" fill="#925868"/>
<rect x="38.3" y="315.42" width="104.70" height="2.0" fill="#f3c8d3"/>
<rect x="38.3" y="316.02" width="104.70" height="0.8" fill="#925868"/>
<rect x="38.3" y="318.77" width="90.30" height="2.0" fill="#f3c8d3"/>
<rect x="38.3" y="319.37" width="90.30" height="0.8" fill="#925868"/>
<rect x="38.3" y="322.12" width="115.40" height="2.0" fill="#f3c8d3"/>
<rect x="38.3" y="322.73" width="115.40" height="0.8" fill="#925868"/>
<rect x="38.3" y="325.48" width="110.00" height="2.0" fill="#f3c8d3"/>
<rect x="38.3" y="326.08" width="110.00" height="0.8" fill="#925868"/>
<rect x="38.3" y="328.84" width="116.70" height="2.0" fill="#f3c8d3"/>
<rect x="38.3" y="329.44" width="116.70" height="0.8" fill="#925868"/>
<rect x="38.3" y="332.19" width="93.90" height="2.0" fill="#f3c8d3"/>
<rect x="38.3" y="332.79" width="93.90" height="0.8" fill="#925868"/>
<rect x="38.3" y="335.55" width="101.10" height="2.0" fill="#f3c8d3"/>
<rect x="38.3" y="336.15" width="101.10" height="0.8" fill="#925868"/>
<rect x="38.3" y="338.90" width="117.20" height="2.0" fill="#f3c8d3"/>
<rect x="38.3" y="339.50" width="117.20" height="0.8" fill="#925868"/>
<rect x="38.3" y="342.25" width="101.10" height="2.0" fill="#f3c8d3"/>
<rect x="38.3" y="342.86" width="101.10" height="0.8" fill="#925868"/>
<rect x="38.3" y="345.61" width="75.90" height="2.0" fill="#f3c8d3"/>
<rect x="38.3" y="346.21" width="75.90" height="0.8" fill="#925868"/>
<rect x="38.3" y="348.97" width="90.30" height="2.0" fill="#f3c8d3"/>
<rect x="38.3" y="349.57" width="90.30" height="0.8" fill="#925868"/>
<rect x="38.3" y="352.32" width="97.50" height="2.0" fill="#f3c8d3"/>
<rect x="38.3" y="352.92" width="97.50" height="0.8" fill="#925868"/>
<rect x="38.3" y="355.68" width="70.50" height="2.0" fill="#f3c8d3"/>
<rect x="38.3" y="356.28" width="70.50" height="0.8" fill="#925868"/>
<rect x="38.3" y="359.03" width="93.90" height="2.0" fill="#f3c8d3"/>
<rect x="38.3" y="359.63" width="93.90" height="0.8" fill="#925868"/>
<rect x="38.3" y="362.38" width="36.10" height="2.0" fill="#f3c8d3"/>
<rect x="38.3" y="362.99" width="36.10" height="0.8" fill="#925868"/>
<rect x="38.3" y="365.74" width="73.20" height="2.0" fill="#f3c8d3"/>
<rect x="38.3" y="366.34" width="73.20" height="0.8" fill="#925868"/>
<rect x="38.3" y="369.10" width="89.30" height="2.0" fill="#f3c8d3"/>
<rect x="38.3" y="369.70" width="89.30" height="0.8" fill="#925868"/>
<rect x="38.3" y="372.45" width="83.10" height="2.0" fill="#f3c8d3"/>
<rect x="38.3" y="373.05" width="83.10" height="0.8" fill="#925868"/>
<rect x="38.3" y="375.81" width="92.10" height="2.0" fill="#f3c8d3"/>
<rect x="38.3" y="376.41" width="92.10" height="0.8" fill="#925868"/>
<rect x="38.3" y="379.16" width="72.30" height="2.0" fill="#f3c8d3"/>
<rect x="38.3" y="379.76" width="72.30" height="0.8" fill="#925868"/>
<rect x="38.3" y="382.51" width="70.50" height="2.0" fill="#f3c8d3"/>
<rect x="38.3" y="383.12" width="70.50" height="0.8" fill="#925868"/>
<rect x="38.3" y="385.87" width="70.30" height="2.0" fill="#f3c8d3"/>
<rect x="38.3" y="386.47" width="70.30" height="0.8" fill="#925868"/>
<rect x="38.3" y="389.23" width="46.90" height="2.0" fill="#f3c8d3"/>
<rect x="38.3" y="389.83" width="46.90" height="0.8" fill="#925868"/>
<rect x="38.3" y="392.58" width="52.30" height="2.0" fill="#f3c8d3"/>
<rect x="38.3" y="393.18" width="52.30" height="0.8" fill="#925868"/>
<rect x="38.3" y="395.94" width="20.70" height="2.0" fill="#f3c8d3"/>
<rect x="38.3" y="396.54" width="20.70" height="0.8" fill="#925868"/>
<rect x="38.3" y="399.29" width="30.70" height="2.0" fill="#f3c8d3"/>
<rect x="38.3" y="399.89" width="30.70" height="0.8" fill="#925868"/>
<rect x="38.3" y="402.64" width="15.70" height="2.0" fill="#f3c8d3"/>
<rect x="38.3" y="403.25" width="15.70" height="0.8" fill="#925868"/>
<rect x="38.3" y="406.00" width="11.70" height="2.0" fill="#f3c8d3"/>
<rect x="38.3" y="406.60" width="11.70" height="0.8" fill="#925868"/>
<rect x="38.3" y="414.20" width="22.90" height="2.0" fill="#f3c8d3"/>
<rect x="38.3" y="414.80" width="22.90" height="0.8" fill="#925868"/>
<rect x="38.3" y="417.55" width="62.40" height="2.0" fill="#f3c8d3"/>
<rect x="38.3" y="418.15" width="62.40" height="0.8" fill="#925868"/>
<rect x="38.3" y="420.89" width="40.90" height="2.0" fill="#f3c8d3"/>
<rect x="38.3" y="421.49" width="40.90" height="0.8" fill="#925868"/>
<rect x="38.3" y="424.24" width="42.70" height="2.0" fill="#f3c8d3"/>
<rect x="38.3" y="424.84" width="42.70" height="0.8" fill="#925868"/>
<rect x="38.3" y="427.58" width="24.70" height="2.0" fill="#f3c8d3"/>
<rect x="38.3" y="428.18" width="24.70" height="0.8" fill="#925868"/>
<rect x="38.3" y="430.93" width="12.10" height="2.0" fill="#f3c8d3"/>
<rect x="38.3" y="431.53" width="12.10" height="0.8" fill="#925868"/>
<rect x="38.3" y="434.27" width="33.70" height="2.0" fill="#f3c8d3"/>
<rect x="38.3" y="434.87" width="33.70" height="0.8" fill="#925868"/>
<rect x="38.3" y="437.62" width="19.30" height="2.0" fill="#f3c8d3"/>
<rect x="38.3" y="438.22" width="19.30" height="0.8" fill="#925868"/>
<rect x="38.3" y="440.96" width="8.50" height="2.0" fill="#f3c8d3"/>
<rect x="38.3" y="441.56" width="8.50" height="0.8" fill="#925868"/>
<rect x="38.3" y="444.31" width="6.70" height="2.0" fill="#f3c8d3"/>
<rect x="38.3" y="444.91" width="6.70" height="0.8" fill="#925868"/>
<rect x="38.3" y="447.65" width="10.30" height="2.0" fill="#f3c8d3"/>
<rect x="38.3" y="448.25" width="10.30" height="0.8" fill="#925868"/>
<rect x="38.3" y="451.00" width="2.20" height="2.0" fill="#f3c8d3"/>
<rect x="38.3" y="451.60" width="2.20" height="0.8" fill="#925868"/>
<rect x="38.3" y="458.10" width="73.20" height="2.0" fill="#f3c8d3"/>
<rect x="38.3" y="458.70" width="73.20" height="0.8" fill="#925868"/>
<rect x="38.3" y="464.60" width="313.70" height="2.0" fill="#f3c8d3"/>
<rect x="38.3" y="465.20" width="313.70" height="0.8" fill="#925868"/>
<rect x="38.3" y="467.95" width="335.20" height="2.0" fill="#f3c8d3"/>
<rect x="38.3" y="468.55" width="335.20" height="0.8" fill="#925868"/>
<rect x="38.3" y="471.29" width="346.70" height="2.0" fill="#f3c8d3"/>
<rect x="38.3" y="471.89" width="346.70" height="0.8" fill="#925868"/>
<rect x="38.3" y="474.64" width="39.70" height="2.0" fill="#f3c8d3"/>
<rect x="38.3" y="475.24" width="39.70" height="0.8" fill="#925868"/>
<rect x="38.3" y="477.98" width="37.40" height="2.0" fill="#f3c8d3"/>
<rect x="38.3" y="478.58" width="37.40" height="0.8" fill="#925868"/>
<rect x="38.3" y="481.33" width="16.40" height="2.0" fill="#f3c8d3"/>
<rect x="38.3" y="481.93" width="16.40" height="0.8" fill="#925868"/>
<rect x="38.3" y="489.40" width="73.20" height="2.0" fill="#f3c8d3"/>
<rect x="38.3" y="490.00" width="73.20" height="0.8" fill="#925868"/>
<rect x="38.3" y="492.75" width="30.10" height="2.0" fill="#f3c8d3"/>
<rect x="38.3" y="493.35" width="30.10" height="0.8" fill="#925868"/>
<rect x="38.3" y="496.09" width="46.30" height="2.0" fill="#f3c8d3"/>
<rect x="38.3" y="496.69" width="46.30" height="0.8" fill="#925868"/>
<rect x="38.3" y="499.44" width="4.90" height="2.0" fill="#f3c8d3"/>
<rect x="38.3" y="500.04" width="4.90" height="0.8" fill="#925868"/>
<rect x="38.3" y="502.78" width="24.70" height="2.0" fill="#f3c8d3"/>
<rect x="38.3" y="503.38" width="24.70" height="0.8" fill="#925868"/>
<rect x="38.3" y="506.12" width="30.10" height="2.0" fill="#f3c8d3"/>
<rect x="38.3" y="506.73" width="30.10" height="0.8" fill="#925868"/>
<rect x="38.3" y="509.47" width="39.10" height="2.0" fill="#f3c8d3"/>
<rect x="38.3" y="510.07" width="39.10" height="0.8" fill="#925868"/>
<rect x="38.3" y="512.81" width="10.30" height="2.0" fill="#f3c8d3"/>
<rect x="38.3" y="513.41" width="10.30" height="0.8" fill="#925868"/>
<rect x="38.3" y="516.16" width="33.70" height="2.0" fill="#f3c8d3"/>
<rect x="38.3" y="516.76" width="33.70" height="0.8" fill="#925868"/>
<rect x="38.3" y="519.50" width="33.70" height="2.0" fill="#f3c8d3"/>
<rect x="38.3" y="520.11" width="33.70" height="0.8" fill="#925868"/>
<rect x="38.3" y="522.85" width="53.50" height="2.0" fill="#f3c8d3"/>
<rect x="38.3" y="523.45" width="53.50" height="0.8" fill="#925868"/>
<rect x="38.3" y="526.19" width="19.30" height="2.0" fill="#f3c8d3"/>
<rect x="38.3" y="526.79" width="19.30" height="0.8" fill="#925868"/>
<rect x="38.3" y="529.54" width="2.20" height="2.0" fill="#f3c8d3"/>
<rect x="38.3" y="530.14" width="2.20" height="0.8" fill="#925868"/>
<rect x="38.3" y="532.88" width="17.50" height="2.0" fill="#f3c8d3"/>
<rect x="38.3" y="533.49" width="17.50" height="0.8" fill="#925868"/>
<rect x="38.3" y="536.23" width="8.50" height="2.0" fill="#f3c8d3"/>
<rect x="38.3" y="536.83" width="8.50" height="0.8" fill="#925868"/>
<rect x="38.3" y="539.57" width="57.10" height="2.0" fill="#f3c8d3"/>
<rect x="38.3" y="540.17" width="57.10" height="0.8" fill="#925868"/>
<rect x="38.3" y="542.92" width="31.70" height="2.0" fill="#f3c8d3"/>
<rect x="38.3" y="543.52" width="31.70" height="0.8" fill="#925868"/>
<rect x="38.3" y="546.26" width="6.70" height="2.0" fill="#f3c8d3"/>
<rect x="38.3" y="546.87" width="6.70" height="0.8" fill="#925868"/>
<rect x="38.3" y="549.61" width="24.70" height="2.0" fill="#f3c8d3"/>
<rect x="38.3" y="550.21" width="24.70" height="0.8" fill="#925868"/>
<rect x="38.3" y="552.95" width="15.70" height="2.0" fill="#f3c8d3"/>
<rect x="38.3" y="553.55" width="15.70" height="0.8" fill="#925868"/>
<rect x="38.3" y="556.30" width="7.60" height="2.0" fill="#f3c8d3"/>
<rect x="38.3" y="556.90" width="7.60" height="0.8" fill="#925868"/>
<rect x="38.3" y="559.64" width="17.50" height="2.0" fill="#f3c8d3"/>
<rect x="38.3" y="560.25" width="17.50" height="0.8" fill="#925868"/>
<rect x="38.3" y="562.99" width="10.30" height="2.0" fill="#f3c8d3"/>
<rect x="38.3" y="563.59" width="10.30" height="0.8" fill="#925868"/>
<rect x="38.3" y="566.34" width="10.30" height="2.0" fill="#f3c8d3"/>
<rect x="38.3" y="566.94" width="10.30" height="0.8" fill="#925868"/>
<rect x="38.3" y="569.68" width="10.30" height="2.0" fill="#f3c8d3"/>
<rect x="38.3" y="570.28" width="10.30" height="0.8" fill="#925868"/>
<rect x="38.3" y="573.02" width="12.10" height="2.0" fill="#f3c8d3"/>
<rect x="38.3" y="573.62" width="12.10" height="0.8" fill="#925868"/>
<rect x="38.3" y="576.37" width="6.70" height="2.0" fill="#f3c8d3"/>
<rect x="38.3" y="576.97" width="6.70" height="0.8" fill="#925868"/>
<rect x="38.3" y="579.72" width="3.10" height="2.0" fill="#f3c8d3"/>
<rect x="38.3" y="580.32" width="3.10" height="0.8" fill="#925868"/>
<rect x="38.3" y="583.06" width="4.00" height="2.0" fill="#f3c8d3"/>
<rect x="38.3" y="583.66" width="4.00" height="0.8" fill="#925868"/>
<rect x="38.3" y="586.40" width="6.70" height="2.0" fill="#f3c8d3"/>
<rect x="38.3" y="587.00" width="6.70" height="0.8" fill="#925868"/>
<rect x="38.3" y="589.75" width="4.00" height="2.0" fill="#f3c8d3"/>
<rect x="38.3" y="590.35" width="4.00" height="0.8" fill="#925868"/>
<rect x="38.3" y="593.10" width="9.40" height="2.0" fill="#f3c8d3"/>
<rect x="38.3" y="593.70" width="9.40" height="0.8" fill="#925868"/>
<rect x="38.3" y="596.44" width="10.30" height="2.0" fill="#f3c8d3"/>
<rect x="38.3" y="597.04" width="10.30" height="0.8" fill="#925868"/>
<rect x="38.3" y="599.78" width="12.10" height="2.0" fill="#f3c8d3"/>
<rect x="38.3" y="600.38" width="12.10" height="0.8" fill="#925868"/>
<rect x="38.3" y="603.13" width="0.30" height="2.0" fill="#f3c8d3"/>
<rect x="38.3" y="603.73" width="0.30" height="0.8" fill="#925868"/>
<rect x="38.3" y="606.48" width="0.30" height="2.0" fill="#f3c8d3"/>
<rect x="38.3" y="607.08" width="0.30" height="0.8" fill="#925868"/>
<rect x="38.3" y="609.82" width="1.20" height="2.0" fill="#f3c8d3"/>
<rect x="38.3" y="610.42" width="1.20" height="0.8" fill="#925868"/>
<rect x="38.3" y="613.16" width="9.40" height="2.0" fill="#f3c8d3"/>
<rect x="38.3" y="613.76" width="9.40" height="0.8" fill="#925868"/>
<rect x="38.3" y="616.51" width="28.30" height="2.0" fill="#f3c8d3"/>
<rect x="38.3" y="617.11" width="28.30" height="0.8" fill="#925868"/>
<rect x="38.3" y="619.86" width="2.20" height="2.0" fill="#f3c8d3"/>
<rect x="38.3" y="620.46" width="2.20" height="0.8" fill="#925868"/>
<rect x="38.3" y="623.20" width="21.10" height="2.0" fill="#f3c8d3"/>
<rect x="38.3" y="623.80" width="21.10" height="0.8" fill="#925868"/>
<rect x="38.3" y="626.54" width="4.00" height="2.0" fill="#f3c8d3"/>
<rect x="38.3" y="627.14" width="4.00" height="0.8" fill="#925868"/>
<rect x="38.3" y="629.89" width="9.40" height="2.0" fill="#f3c8d3"/>
<rect x="38.3" y="630.49" width="9.40" height="0.8" fill="#925868"/>
<rect x="38.3" y="633.24" width="2.20" height="2.0" fill="#f3c8d3"/>
<rect x="38.3" y="633.84" width="2.20" height="0.8" fill="#925868"/>
<rect x="38.3" y="636.58" width="6.70" height="2.0" fill="#f3c8d3"/>
<rect x="38.3" y="637.18" width="6.70" height="0.8" fill="#925868"/>
<rect x="38.3" y="639.92" width="0.70" height="2.0" fill="#f3c8d3"/>
<rect x="38.3" y="640.52" width="0.70" height="0.8" fill="#925868"/>
<rect x="38.3" y="643.27" width="12.10" height="2.0" fill="#f3c8d3"/>
<rect x="38.3" y="643.87" width="12.10" height="0.8" fill="#925868"/>
<rect x="38.3" y="646.62" width="22.90" height="2.0" fill="#f3c8d3"/>
<rect x="38.3" y="647.22" width="22.90" height="0.8" fill="#925868"/>
<rect x="38.3" y="649.96" width="21.10" height="2.0" fill="#f3c8d3"/>
<rect x="38.3" y="650.56" width="21.10" height="0.8" fill="#925868"/>
<rect x="38.3" y="653.30" width="6.70" height="2.0" fill="#f3c8d3"/>
<rect x="38.3" y="653.90" width="6.70" height="0.8" fill="#925868"/>
<rect x="38.3" y="656.65" width="8.50" height="2.0" fill="#f3c8d3"/>
<rect x="38.3" y="657.25" width="8.50" height="0.8" fill="#925868"/>
<rect x="38.3" y="680.10" width="51.70" height="2.0" fill="#f3c8d3"/>
<rect x="38.3" y="680.70" width="51.70" height="0.8" fill="#925868"/>
<line x1="370.00" y1="45.15" x2="408.00" y2="45.15" stroke="#6e6e6e" stroke-width="0.85"/>
<line x1="408.00" y1="43.75" x2="408.00" y2="46.55" stroke="#6e6e6e" stroke-width="0.8"/>
<line x1="299.00" y1="48.49" x2="331.20" y2="48.49" stroke="#6e6e6e" stroke-width="0.85"/>
<line x1="331.20" y1="47.09" x2="331.20" y2="49.89" stroke="#6e6e6e" stroke-width="0.8"/>
<line x1="307.00" y1="51.84" x2="334.60" y2="51.84" stroke="#6e6e6e" stroke-width="0.85"/>
<line x1="334.60" y1="50.44" x2="334.60" y2="53.24" stroke="#6e6e6e" stroke-width="0.8"/>
<line x1="263.00" y1="55.19" x2="290.50" y2="55.19" stroke="#6e6e6e" stroke-width="0.85"/>
<line x1="290.50" y1="53.79" x2="290.50" y2="56.59" stroke="#6e6e6e" stroke-width="0.8"/>
<line x1="256.00" y1="58.53" x2="283.30" y2="58.53" stroke="#6e6e6e" stroke-width="0.85"/>
<line x1="283.30" y1="57.13" x2="283.30" y2="59.93" stroke="#6e6e6e" stroke-width="0.8"/>
<line x1="281.00" y1="61.88" x2="310.50" y2="61.88" stroke="#6e6e6e" stroke-width="0.85"/>
<line x1="310.50" y1="60.48" x2="310.50" y2="63.27" stroke="#6e6e6e" stroke-width="0.8"/>
<line x1="251.50" y1="65.22" x2="278.80" y2="65.22" stroke="#6e6e6e" stroke-width="0.85"/>
<line x1="278.80" y1="63.82" x2="278.80" y2="66.62" stroke="#6e6e6e" stroke-width="0.8"/>
<line x1="238.00" y1="68.56" x2="264.30" y2="68.56" stroke="#6e6e6e" stroke-width="0.85"/>
<line x1="264.30" y1="67.16" x2="264.30" y2="69.97" stroke="#6e6e6e" stroke-width="0.8"/>
<line x1="239.80" y1="71.91" x2="265.20" y2="71.91" stroke="#6e6e6e" stroke-width="0.85"/>
<line x1="265.20" y1="70.51" x2="265.20" y2="73.31" stroke="#6e6e6e" stroke-width="0.8"/>
<line x1="246.00" y1="75.25" x2="270.40" y2="75.25" stroke="#6e6e6e" stroke-width="0.85"/>
<line x1="270.40" y1="73.85" x2="270.40" y2="76.66" stroke="#6e6e6e" stroke-width="0.8"/>
<line x1="191.30" y1="78.60" x2="217.50" y2="78.60" stroke="#6e6e6e" stroke-width="0.85"/>
<line x1="217.50" y1="77.20" x2="217.50" y2="80.00" stroke="#6e6e6e" stroke-width="0.8"/>
<line x1="238.00" y1="81.94" x2="261.40" y2="81.94" stroke="#6e6e6e" stroke-width="0.85"/>
<line x1="261.40" y1="80.54" x2="261.40" y2="83.34" stroke="#6e6e6e" stroke-width="0.8"/>
<line x1="203.00" y1="85.29" x2="225.50" y2="85.29" stroke="#6e6e6e" stroke-width="0.85"/>
<line x1="225.50" y1="83.89" x2="225.50" y2="86.69" stroke="#6e6e6e" stroke-width="0.8"/>
<line x1="192.20" y1="88.63" x2="211.80" y2="88.63" stroke="#6e6e6e" stroke-width="0.85"/>
<line x1="211.80" y1="87.23" x2="211.80" y2="90.03" stroke="#6e6e6e" stroke-width="0.8"/>
<line x1="212.90" y1="91.98" x2="232.70" y2="91.98" stroke="#6e6e6e" stroke-width="0.85"/>
<line x1="232.70" y1="90.58" x2="232.70" y2="93.38" stroke="#6e6e6e" stroke-width="0.8"/>
<line x1="179.60" y1="95.33" x2="203.00" y2="95.33" stroke="#6e6e6e" stroke-width="0.85"/>
<line x1="203.00" y1="93.92" x2="203.00" y2="96.73" stroke="#6e6e6e" stroke-width="0.8"/>
<line x1="210.00" y1="98.67" x2="238.00" y2="98.67" stroke="#6e6e6e" stroke-width="0.85"/>
<line x1="238.00" y1="97.27" x2="238.00" y2="100.07" stroke="#6e6e6e" stroke-width="0.8"/>
<line x1="217.40" y1="102.02" x2="241.60" y2="102.02" stroke="#6e6e6e" stroke-width="0.85"/>
<line x1="241.60" y1="100.61" x2="241.60" y2="103.42" stroke="#6e6e6e" stroke-width="0.8"/>
<line x1="133.00" y1="105.36" x2="148.40" y2="105.36" stroke="#6e6e6e" stroke-width="0.85"/>
<line x1="148.40" y1="103.96" x2="148.40" y2="106.76" stroke="#6e6e6e" stroke-width="0.8"/>
<line x1="142.00" y1="108.71" x2="165.50" y2="108.71" stroke="#6e6e6e" stroke-width="0.85"/>
<line x1="165.50" y1="107.31" x2="165.50" y2="110.11" stroke="#6e6e6e" stroke-width="0.8"/>
<line x1="150.20" y1="112.05" x2="166.00" y2="112.05" stroke="#6e6e6e" stroke-width="0.85"/>
<line x1="166.00" y1="110.65" x2="166.00" y2="113.45" stroke="#6e6e6e" stroke-width="0.8"/>
<line x1="127.70" y1="115.40" x2="144.40" y2="115.40" stroke="#6e6e6e" stroke-width="0.85"/>
<line x1="144.40" y1="114.00" x2="144.40" y2="116.80" stroke="#6e6e6e" stroke-width="0.8"/>
<line x1="152.00" y1="118.74" x2="168.50" y2="118.74" stroke="#6e6e6e" stroke-width="0.85"/>
<line x1="168.50" y1="117.34" x2="168.50" y2="120.14" stroke="#6e6e6e" stroke-width="0.8"/>
<line x1="125.90" y1="122.09" x2="143.90" y2="122.09" stroke="#6e6e6e" stroke-width="0.85"/>
<line x1="143.90" y1="120.69" x2="143.90" y2="123.49" stroke="#6e6e6e" stroke-width="0.8"/>
<line x1="133.00" y1="125.43" x2="148.40" y2="125.43" stroke="#6e6e6e" stroke-width="0.85"/>
<line x1="148.40" y1="124.03" x2="148.40" y2="126.83" stroke="#6e6e6e" stroke-width="0.8"/>
<line x1="113.30" y1="128.78" x2="125.40" y2="128.78" stroke="#6e6e6e" stroke-width="0.85"/>
<line x1="125.40" y1="127.38" x2="125.40" y2="130.18" stroke="#6e6e6e" stroke-width="0.8"/>
<line x1="117.80" y1="132.12" x2="138.80" y2="132.12" stroke="#6e6e6e" stroke-width="0.85"/>
<line x1="138.80" y1="130.72" x2="138.80" y2="133.52" stroke="#6e6e6e" stroke-width="0.8"/>
<line x1="149.30" y1="135.47" x2="168.50" y2="135.47" stroke="#6e6e6e" stroke-width="0.85"/>
<line x1="168.50" y1="134.06" x2="168.50" y2="136.87" stroke="#6e6e6e" stroke-width="0.8"/>
<line x1="147.50" y1="138.81" x2="164.90" y2="138.81" stroke="#6e6e6e" stroke-width="0.85"/>
<line x1="164.90" y1="137.41" x2="164.90" y2="140.21" stroke="#6e6e6e" stroke-width="0.8"/>
<line x1="126.80" y1="142.16" x2="142.00" y2="142.16" stroke="#6e6e6e" stroke-width="0.85"/>
<line x1="142.00" y1="140.75" x2="142.00" y2="143.56" stroke="#6e6e6e" stroke-width="0.8"/>
<line x1="115.10" y1="145.50" x2="135.40" y2="145.50" stroke="#6e6e6e" stroke-width="0.85"/>
<line x1="135.40" y1="144.10" x2="135.40" y2="146.90" stroke="#6e6e6e" stroke-width="0.8"/>
<line x1="118.00" y1="148.84" x2="135.40" y2="148.84" stroke="#6e6e6e" stroke-width="0.85"/>
<line x1="135.40" y1="147.44" x2="135.40" y2="150.25" stroke="#6e6e6e" stroke-width="0.8"/>
<line x1="111.50" y1="152.19" x2="124.70" y2="152.19" stroke="#6e6e6e" stroke-width="0.85"/>
<line x1="124.70" y1="150.79" x2="124.70" y2="153.59" stroke="#6e6e6e" stroke-width="0.8"/>
<line x1="88.20" y1="155.53" x2="104.30" y2="155.53" stroke="#6e6e6e" stroke-width="0.85"/>
<line x1="104.30" y1="154.13" x2="104.30" y2="156.94" stroke="#6e6e6e" stroke-width="0.8"/>
<line x1="104.30" y1="158.88" x2="110.30" y2="158.88" stroke="#6e6e6e" stroke-width="0.85"/>
<line x1="110.30" y1="157.48" x2="110.30" y2="160.28" stroke="#6e6e6e" stroke-width="0.8"/>
<line x1="106.00" y1="162.22" x2="117.50" y2="162.22" stroke="#6e6e6e" stroke-width="0.85"/>
<line x1="117.50" y1="160.82" x2="117.50" y2="163.62" stroke="#6e6e6e" stroke-width="0.8"/>
<line x1="111.50" y1="165.57" x2="121.40" y2="165.57" stroke="#6e6e6e" stroke-width="0.85"/>
<line x1="121.40" y1="164.17" x2="121.40" y2="166.97" stroke="#6e6e6e" stroke-width="0.8"/>
<line x1="144.00" y1="168.91" x2="157.60" y2="168.91" stroke="#6e6e6e" stroke-width="0.85"/>
<line x1="157.60" y1="167.51" x2="157.60" y2="170.31" stroke="#6e6e6e" stroke-width="0.8"/>
<line x1="84.60" y1="172.26" x2="95.40" y2="172.26" stroke="#6e6e6e" stroke-width="0.85"/>
<line x1="95.40" y1="170.86" x2="95.40" y2="173.66" stroke="#6e6e6e" stroke-width="0.8"/>
<line x1="100.70" y1="175.61" x2="112.40" y2="175.61" stroke="#6e6e6e" stroke-width="0.85"/>
<line x1="112.40" y1="174.21" x2="112.40" y2="177.01" stroke="#6e6e6e" stroke-width="0.8"/>
<line x1="84.60" y1="178.95" x2="95.40" y2="178.95" stroke="#6e6e6e" stroke-width="0.85"/>
<line x1="95.40" y1="177.55" x2="95.40" y2="180.35" stroke="#6e6e6e" stroke-width="0.8"/>
<line x1="118.70" y1="182.30" x2="132.60" y2="182.30" stroke="#6e6e6e" stroke-width="0.85"/>
<line x1="132.60" y1="180.90" x2="132.60" y2="183.70" stroke="#6e6e6e" stroke-width="0.8"/>
<line x1="81.00" y1="185.64" x2="91.40" y2="185.64" stroke="#6e6e6e" stroke-width="0.85"/>
<line x1="91.40" y1="184.24" x2="91.40" y2="187.04" stroke="#6e6e6e" stroke-width="0.8"/>
<line x1="127.90" y1="188.99" x2="141.40" y2="188.99" stroke="#6e6e6e" stroke-width="0.85"/>
<line x1="141.40" y1="187.59" x2="141.40" y2="190.39" stroke="#6e6e6e" stroke-width="0.8"/>
<line x1="73.80" y1="192.33" x2="85.50" y2="192.33" stroke="#6e6e6e" stroke-width="0.85"/>
<line x1="85.50" y1="190.93" x2="85.50" y2="193.73" stroke="#6e6e6e" stroke-width="0.8"/>
<line x1="86.40" y1="195.68" x2="94.10" y2="195.68" stroke="#6e6e6e" stroke-width="0.85"/>
<line x1="94.10" y1="194.28" x2="94.10" y2="197.08" stroke="#6e6e6e" stroke-width="0.8"/>
<line x1="81.00" y1="199.02" x2="90.00" y2="199.02" stroke="#6e6e6e" stroke-width="0.85"/>
<line x1="90.00" y1="197.62" x2="90.00" y2="200.42" stroke="#6e6e6e" stroke-width="0.8"/>
<line x1="66.60" y1="202.37" x2="75.60" y2="202.37" stroke="#6e6e6e" stroke-width="0.85"/>
<line x1="75.60" y1="200.97" x2="75.60" y2="203.77" stroke="#6e6e6e" stroke-width="0.8"/>
<line x1="64.80" y1="205.71" x2="71.60" y2="205.71" stroke="#6e6e6e" stroke-width="0.85"/>
<line x1="71.60" y1="204.31" x2="71.60" y2="207.11" stroke="#6e6e6e" stroke-width="0.8"/>
<line x1="81.00" y1="209.06" x2="89.60" y2="209.06" stroke="#6e6e6e" stroke-width="0.85"/>
<line x1="89.60" y1="207.66" x2="89.60" y2="210.46" stroke="#6e6e6e" stroke-width="0.8"/>
<line x1="64.80" y1="212.40" x2="70.50" y2="212.40" stroke="#6e6e6e" stroke-width="0.85"/>
<line x1="70.50" y1="211.00" x2="70.50" y2="213.80" stroke="#6e6e6e" stroke-width="0.8"/>
<line x1="95.00" y1="215.75" x2="104.60" y2="215.75" stroke="#6e6e6e" stroke-width="0.85"/>
<line x1="104.60" y1="214.34" x2="104.60" y2="217.15" stroke="#6e6e6e" stroke-width="0.8"/>
<line x1="63.00" y1="219.09" x2="68.00" y2="219.09" stroke="#6e6e6e" stroke-width="0.85"/>
<line x1="68.00" y1="217.69" x2="68.00" y2="220.49" stroke="#6e6e6e" stroke-width="0.8"/>
<line x1="72.00" y1="222.44" x2="81.00" y2="222.44" stroke="#6e6e6e" stroke-width="0.85"/>
<line x1="81.00" y1="221.03" x2="81.00" y2="223.84" stroke="#6e6e6e" stroke-width="0.8"/>
<line x1="64.80" y1="225.78" x2="70.20" y2="225.78" stroke="#6e6e6e" stroke-width="0.85"/>
<line x1="70.20" y1="224.38" x2="70.20" y2="227.18" stroke="#6e6e6e" stroke-width="0.8"/>
<line x1="74.70" y1="229.13" x2="81.90" y2="229.13" stroke="#6e6e6e" stroke-width="0.85"/>
<line x1="81.90" y1="227.73" x2="81.90" y2="230.53" stroke="#6e6e6e" stroke-width="0.8"/>
<line x1="52.20" y1="232.47" x2="57.60" y2="232.47" stroke="#6e6e6e" stroke-width="0.85"/>
<line x1="57.60" y1="231.07" x2="57.60" y2="233.87" stroke="#6e6e6e" stroke-width="0.8"/>
<line x1="49.50" y1="235.82" x2="54.00" y2="235.82" stroke="#6e6e6e" stroke-width="0.85"/>
<line x1="54.00" y1="234.42" x2="54.00" y2="237.22" stroke="#6e6e6e" stroke-width="0.8"/>
<line x1="44.10" y1="239.16" x2="47.90" y2="239.16" stroke="#6e6e6e" stroke-width="0.85"/>
<line x1="47.90" y1="237.76" x2="47.90" y2="240.56" stroke="#6e6e6e" stroke-width="0.8"/>
<line x1="242.30" y1="246.20" x2="275.40" y2="246.20" stroke="#6e6e6e" stroke-width="0.85"/>
<line x1="275.40" y1="244.80" x2="275.40" y2="247.60" stroke="#6e6e6e" stroke-width="0.8"/>
<line x1="429.50" y1="249.50" x2="466.20" y2="249.50" stroke="#6e6e6e" stroke-width="0.85"/>
<line x1="466.20" y1="248.10" x2="466.20" y2="250.90" stroke="#6e6e6e" stroke-width="0.8"/>
<line x1="143.40" y1="252.80" x2="157.80" y2="252.80" stroke="#6e6e6e" stroke-width="0.85"/>
<line x1="157.80" y1="251.40" x2="157.80" y2="254.20" stroke="#6e6e6e" stroke-width="0.8"/>
<line x1="458.30" y1="259.60" x2="494.20" y2="259.60" stroke="#6e6e6e" stroke-width="0.85"/>
<line x1="494.20" y1="258.20" x2="494.20" y2="261.00" stroke="#6e6e6e" stroke-width="0.8"/>
<line x1="390.00" y1="262.90" x2="424.10" y2="262.90" stroke="#6e6e6e" stroke-width="0.85"/>
<line x1="424.10" y1="261.50" x2="424.10" y2="264.30" stroke="#6e6e6e" stroke-width="0.8"/>
<line x1="154.20" y1="266.20" x2="174.00" y2="266.20" stroke="#6e6e6e" stroke-width="0.85"/>
<line x1="174.00" y1="264.80" x2="174.00" y2="267.60" stroke="#6e6e6e" stroke-width="0.8"/>
<line x1="333.70" y1="272.80" x2="358.00" y2="272.80" stroke="#6e6e6e" stroke-width="0.85"/>
<line x1="358.00" y1="271.40" x2="358.00" y2="274.20" stroke="#6e6e6e" stroke-width="0.8"/>
<line x1="243.50" y1="276.16" x2="261.50" y2="276.16" stroke="#6e6e6e" stroke-width="0.85"/>
<line x1="261.50" y1="274.76" x2="261.50" y2="277.56" stroke="#6e6e6e" stroke-width="0.8"/>
<line x1="204.00" y1="279.51" x2="213.50" y2="279.51" stroke="#6e6e6e" stroke-width="0.85"/>
<line x1="213.50" y1="278.11" x2="213.50" y2="280.91" stroke="#6e6e6e" stroke-width="0.8"/>
<line x1="195.90" y1="282.87" x2="212.60" y2="282.87" stroke="#6e6e6e" stroke-width="0.85"/>
<line x1="212.60" y1="281.47" x2="212.60" y2="284.26" stroke="#6e6e6e" stroke-width="0.8"/>
<line x1="205.00" y1="286.22" x2="220.70" y2="286.22" stroke="#6e6e6e" stroke-width="0.85"/>
<line x1="220.70" y1="284.82" x2="220.70" y2="287.62" stroke="#6e6e6e" stroke-width="0.8"/>
<line x1="207.60" y1="289.57" x2="222.50" y2="289.57" stroke="#6e6e6e" stroke-width="0.85"/>
<line x1="222.50" y1="288.18" x2="222.50" y2="290.97" stroke="#6e6e6e" stroke-width="0.8"/>
<line x1="209.40" y1="292.93" x2="223.40" y2="292.93" stroke="#6e6e6e" stroke-width="0.85"/>
<line x1="223.40" y1="291.53" x2="223.40" y2="294.33" stroke="#6e6e6e" stroke-width="0.8"/>
<line x1="177.00" y1="296.29" x2="190.50" y2="296.29" stroke="#6e6e6e" stroke-width="0.85"/>
<line x1="190.50" y1="294.89" x2="190.50" y2="297.69" stroke="#6e6e6e" stroke-width="0.8"/>
<line x1="200.40" y1="299.64" x2="214.70" y2="299.64" stroke="#6e6e6e" stroke-width="0.85"/>
<line x1="214.70" y1="298.24" x2="214.70" y2="301.04" stroke="#6e6e6e" stroke-width="0.8"/>
<line x1="192.30" y1="303.00" x2="205.80" y2="303.00" stroke="#6e6e6e" stroke-width="0.85"/>
<line x1="205.80" y1="301.60" x2="205.80" y2="304.39" stroke="#6e6e6e" stroke-width="0.8"/>
<line x1="184.20" y1="306.35" x2="196.80" y2="306.35" stroke="#6e6e6e" stroke-width="0.85"/>
<line x1="196.80" y1="304.95" x2="196.80" y2="307.75" stroke="#6e6e6e" stroke-width="0.8"/>
<line x1="201.30" y1="309.71" x2="216.50" y2="309.71" stroke="#6e6e6e" stroke-width="0.85"/>
<line x1="216.50" y1="308.31" x2="216.50" y2="311.11" stroke="#6e6e6e" stroke-width="0.8"/>
<line x1="205.80" y1="313.06" x2="220.50" y2="313.06" stroke="#6e6e6e" stroke-width="0.85"/>
<line x1="220.50" y1="311.66" x2="220.50" y2="314.46" stroke="#6e6e6e" stroke-width="0.8"/>
<line x1="182.40" y1="316.42" x2="195.30" y2="316.42" stroke="#6e6e6e" stroke-width="0.85"/>
<line x1="195.30" y1="315.02" x2="195.30" y2="317.81" stroke="#6e6e6e" stroke-width="0.8"/>
<line x1="168.00" y1="319.77" x2="179.70" y2="319.77" stroke="#6e6e6e" stroke-width="0.85"/>
<line x1="179.70" y1="318.37" x2="179.70" y2="321.17" stroke="#6e6e6e" stroke-width="0.8"/>
<line x1="187.80" y1="323.12" x2="202.50" y2="323.12" stroke="#6e6e6e" stroke-width="0.85"/>
<line x1="202.50" y1="321.73" x2="202.50" y2="324.52" stroke="#6e6e6e" stroke-width="0.8"/>
<line x1="184.20" y1="326.48" x2="196.40" y2="326.48" stroke="#6e6e6e" stroke-width="0.85"/>
<line x1="196.40" y1="325.08" x2="196.40" y2="327.88" stroke="#6e6e6e" stroke-width="0.8"/>
<line x1="189.40" y1="329.84" x2="202.80" y2="329.84" stroke="#6e6e6e" stroke-width="0.85"/>
<line x1="202.80" y1="328.44" x2="202.80" y2="331.24" stroke="#6e6e6e" stroke-width="0.8"/>
<line x1="166.00" y1="333.19" x2="177.70" y2="333.19" stroke="#6e6e6e" stroke-width="0.85"/>
<line x1="177.70" y1="331.79" x2="177.70" y2="334.59" stroke="#6e6e6e" stroke-width="0.8"/>
<line x1="169.60" y1="336.55" x2="182.50" y2="336.55" stroke="#6e6e6e" stroke-width="0.85"/>
<line x1="182.50" y1="335.15" x2="182.50" y2="337.94" stroke="#6e6e6e" stroke-width="0.8"/>
<line x1="186.70" y1="339.90" x2="200.10" y2="339.90" stroke="#6e6e6e" stroke-width="0.85"/>
<line x1="200.10" y1="338.50" x2="200.10" y2="341.30" stroke="#6e6e6e" stroke-width="0.8"/>
<line x1="169.60" y1="343.25" x2="182.50" y2="343.25" stroke="#6e6e6e" stroke-width="0.85"/>
<line x1="182.50" y1="341.86" x2="182.50" y2="344.65" stroke="#6e6e6e" stroke-width="0.8"/>
<line x1="144.70" y1="346.61" x2="155.20" y2="346.61" stroke="#6e6e6e" stroke-width="0.85"/>
<line x1="155.20" y1="345.21" x2="155.20" y2="348.01" stroke="#6e6e6e" stroke-width="0.8"/>
<line x1="157.00" y1="349.97" x2="168.40" y2="349.97" stroke="#6e6e6e" stroke-width="0.85"/>
<line x1="168.40" y1="348.57" x2="168.40" y2="351.37" stroke="#6e6e6e" stroke-width="0.8"/>
<line x1="161.50" y1="353.32" x2="173.50" y2="353.32" stroke="#6e6e6e" stroke-width="0.85"/>
<line x1="173.50" y1="351.92" x2="173.50" y2="354.72" stroke="#6e6e6e" stroke-width="0.8"/>
<line x1="135.80" y1="356.68" x2="147.40" y2="356.68" stroke="#6e6e6e" stroke-width="0.85"/>
<line x1="147.40" y1="355.28" x2="147.40" y2="358.07" stroke="#6e6e6e" stroke-width="0.8"/>
<line x1="158.80" y1="360.03" x2="169.90" y2="360.03" stroke="#6e6e6e" stroke-width="0.85"/>
<line x1="169.90" y1="358.63" x2="169.90" y2="361.43" stroke="#6e6e6e" stroke-width="0.8"/>
<line x1="98.80" y1="363.38" x2="112.50" y2="363.38" stroke="#6e6e6e" stroke-width="0.85"/>
<line x1="112.50" y1="361.99" x2="112.50" y2="364.78" stroke="#6e6e6e" stroke-width="0.8"/>
<line x1="139.40" y1="366.74" x2="148.70" y2="366.74" stroke="#6e6e6e" stroke-width="0.85"/>
<line x1="148.70" y1="365.34" x2="148.70" y2="368.14" stroke="#6e6e6e" stroke-width="0.8"/>
<line x1="155.20" y1="370.10" x2="166.90" y2="370.10" stroke="#6e6e6e" stroke-width="0.85"/>
<line x1="166.90" y1="368.70" x2="166.90" y2="371.50" stroke="#6e6e6e" stroke-width="0.8"/>
<line x1="144.40" y1="373.45" x2="154.30" y2="373.45" stroke="#6e6e6e" stroke-width="0.85"/>
<line x1="154.30" y1="372.05" x2="154.30" y2="374.85" stroke="#6e6e6e" stroke-width="0.8"/>
<line x1="155.00" y1="376.81" x2="165.50" y2="376.81" stroke="#6e6e6e" stroke-width="0.85"/>
<line x1="165.50" y1="375.41" x2="165.50" y2="378.20" stroke="#6e6e6e" stroke-width="0.8"/>
<line x1="132.20" y1="380.16" x2="143.00" y2="380.16" stroke="#6e6e6e" stroke-width="0.85"/>
<line x1="143.00" y1="378.76" x2="143.00" y2="381.56" stroke="#6e6e6e" stroke-width="0.8"/>
<line x1="130.40" y1="383.51" x2="142.10" y2="383.51" stroke="#6e6e6e" stroke-width="0.85"/>
<line x1="142.10" y1="382.12" x2="142.10" y2="384.91" stroke="#6e6e6e" stroke-width="0.8"/>
<line x1="130.10" y1="386.87" x2="138.60" y2="386.87" stroke="#6e6e6e" stroke-width="0.85"/>
<line x1="138.60" y1="385.47" x2="138.60" y2="388.27" stroke="#6e6e6e" stroke-width="0.8"/>
<line x1="105.00" y1="390.23" x2="113.40" y2="390.23" stroke="#6e6e6e" stroke-width="0.85"/>
<line x1="113.40" y1="388.83" x2="113.40" y2="391.62" stroke="#6e6e6e" stroke-width="0.8"/>
<line x1="112.20" y1="393.58" x2="120.60" y2="393.58" stroke="#6e6e6e" stroke-width="0.85"/>
<line x1="120.60" y1="392.18" x2="120.60" y2="394.98" stroke="#6e6e6e" stroke-width="0.8"/>
<line x1="70.80" y1="396.94" x2="77.40" y2="396.94" stroke="#6e6e6e" stroke-width="0.85"/>
<line x1="77.40" y1="395.54" x2="77.40" y2="398.33" stroke="#6e6e6e" stroke-width="0.8"/>
<line x1="79.80" y1="400.29" x2="86.40" y2="400.29" stroke="#6e6e6e" stroke-width="0.85"/>
<line x1="86.40" y1="398.89" x2="86.40" y2="401.69" stroke="#6e6e6e" stroke-width="0.8"/>
<line x1="62.00" y1="403.64" x2="67.20" y2="403.64" stroke="#6e6e6e" stroke-width="0.85"/>
<line x1="67.20" y1="402.25" x2="67.20" y2="405.04" stroke="#6e6e6e" stroke-width="0.8"/>
<line x1="58.00" y1="407.00" x2="62.40" y2="407.00" stroke="#6e6e6e" stroke-width="0.85"/>
<line x1="62.40" y1="405.60" x2="62.40" y2="408.40" stroke="#6e6e6e" stroke-width="0.8"/>
<line x1="157.50" y1="415.20" x2="190.60" y2="415.20" stroke="#6e6e6e" stroke-width="0.85"/>
<line x1="190.60" y1="413.80" x2="190.60" y2="416.60" stroke="#6e6e6e" stroke-width="0.8"/>
<line x1="191.00" y1="418.55" x2="230.70" y2="418.55" stroke="#6e6e6e" stroke-width="0.85"/>
<line x1="230.70" y1="417.15" x2="230.70" y2="419.94" stroke="#6e6e6e" stroke-width="0.8"/>
<line x1="137.00" y1="421.89" x2="162.90" y2="421.89" stroke="#6e6e6e" stroke-width="0.85"/>
<line x1="162.90" y1="420.49" x2="162.90" y2="423.29" stroke="#6e6e6e" stroke-width="0.8"/>
<line x1="132.70" y1="425.24" x2="160.10" y2="425.24" stroke="#6e6e6e" stroke-width="0.85"/>
<line x1="160.10" y1="423.84" x2="160.10" y2="426.63" stroke="#6e6e6e" stroke-width="0.8"/>
<line x1="104.30" y1="428.58" x2="122.00" y2="428.58" stroke="#6e6e6e" stroke-width="0.85"/>
<line x1="122.00" y1="427.18" x2="122.00" y2="429.98" stroke="#6e6e6e" stroke-width="0.8"/>
<line x1="84.60" y1="431.93" x2="96.30" y2="431.93" stroke="#6e6e6e" stroke-width="0.85"/>
<line x1="96.30" y1="430.53" x2="96.30" y2="433.32" stroke="#6e6e6e" stroke-width="0.8"/>
<line x1="104.30" y1="435.27" x2="117.80" y2="435.27" stroke="#6e6e6e" stroke-width="0.85"/>
<line x1="117.80" y1="433.87" x2="117.80" y2="436.67" stroke="#6e6e6e" stroke-width="0.8"/>
<line x1="88.20" y1="438.62" x2="100.70" y2="438.62" stroke="#6e6e6e" stroke-width="0.85"/>
<line x1="100.70" y1="437.22" x2="100.70" y2="440.01" stroke="#6e6e6e" stroke-width="0.8"/>
<line x1="70.20" y1="441.96" x2="78.80" y2="441.96" stroke="#6e6e6e" stroke-width="0.85"/>
<line x1="78.80" y1="440.56" x2="78.80" y2="443.36" stroke="#6e6e6e" stroke-width="0.8"/>
<line x1="59.40" y1="445.31" x2="66.20" y2="445.31" stroke="#6e6e6e" stroke-width="0.85"/>
<line x1="66.20" y1="443.91" x2="66.20" y2="446.70" stroke="#6e6e6e" stroke-width="0.8"/>
<line x1="61.20" y1="448.65" x2="67.50" y2="448.65" stroke="#6e6e6e" stroke-width="0.85"/>
<line x1="67.50" y1="447.25" x2="67.50" y2="450.05" stroke="#6e6e6e" stroke-width="0.8"/>
<line x1="48.60" y1="452.00" x2="52.50" y2="452.00" stroke="#6e6e6e" stroke-width="0.85"/>
<line x1="52.50" y1="450.60" x2="52.50" y2="453.39" stroke="#6e6e6e" stroke-width="0.8"/>
<line x1="189.90" y1="459.10" x2="218.60" y2="459.10" stroke="#6e6e6e" stroke-width="0.85"/>
<line x1="218.60" y1="457.70" x2="218.60" y2="460.50" stroke="#6e6e6e" stroke-width="0.8"/>
<line x1="466.50" y1="465.60" x2="509.10" y2="465.60" stroke="#6e6e6e" stroke-width="0.85"/>
<line x1="509.10" y1="464.20" x2="509.10" y2="467.00" stroke="#6e6e6e" stroke-width="0.8"/>
<line x1="443.50" y1="468.95" x2="468.50" y2="468.95" stroke="#6e6e6e" stroke-width="0.85"/>
<line x1="468.50" y1="467.55" x2="468.50" y2="470.35" stroke="#6e6e6e" stroke-width="0.8"/>
<line x1="455.00" y1="472.29" x2="478.60" y2="472.29" stroke="#6e6e6e" stroke-width="0.85"/>
<line x1="478.60" y1="470.89" x2="478.60" y2="473.69" stroke="#6e6e6e" stroke-width="0.8"/>
<line x1="131.80" y1="475.64" x2="151.20" y2="475.64" stroke="#6e6e6e" stroke-width="0.85"/>
<line x1="151.20" y1="474.24" x2="151.20" y2="477.04" stroke="#6e6e6e" stroke-width="0.8"/>
<line x1="124.80" y1="478.98" x2="141.60" y2="478.98" stroke="#6e6e6e" stroke-width="0.85"/>
<line x1="141.60" y1="477.58" x2="141.60" y2="480.38" stroke="#6e6e6e" stroke-width="0.8"/>
<line x1="82.70" y1="482.33" x2="96.70" y2="482.33" stroke="#6e6e6e" stroke-width="0.85"/>
<line x1="96.70" y1="480.93" x2="96.70" y2="483.73" stroke="#6e6e6e" stroke-width="0.8"/>
<line x1="396.00" y1="490.40" x2="487.50" y2="490.40" stroke="#6e6e6e" stroke-width="0.85"/>
<line x1="487.50" y1="489.00" x2="487.50" y2="491.80" stroke="#6e6e6e" stroke-width="0.8"/>
<line x1="268.50" y1="493.75" x2="322.40" y2="493.75" stroke="#6e6e6e" stroke-width="0.85"/>
<line x1="322.40" y1="492.35" x2="322.40" y2="495.14" stroke="#6e6e6e" stroke-width="0.8"/>
<line x1="228.00" y1="497.09" x2="278.00" y2="497.09" stroke="#6e6e6e" stroke-width="0.85"/>
<line x1="278.00" y1="495.69" x2="278.00" y2="498.49" stroke="#6e6e6e" stroke-width="0.8"/>
<line x1="182.20" y1="500.44" x2="253.70" y2="500.44" stroke="#6e6e6e" stroke-width="0.85"/>
<line x1="253.70" y1="499.04" x2="253.70" y2="501.83" stroke="#6e6e6e" stroke-width="0.8"/>
<line x1="183.00" y1="503.78" x2="222.60" y2="503.78" stroke="#6e6e6e" stroke-width="0.85"/>
<line x1="222.60" y1="502.38" x2="222.60" y2="505.18" stroke="#6e6e6e" stroke-width="0.8"/>
<line x1="171.40" y1="507.12" x2="221.50" y2="507.12" stroke="#6e6e6e" stroke-width="0.85"/>
<line x1="221.50" y1="505.73" x2="221.50" y2="508.52" stroke="#6e6e6e" stroke-width="0.8"/>
<line x1="183.00" y1="510.47" x2="214.50" y2="510.47" stroke="#6e6e6e" stroke-width="0.85"/>
<line x1="214.50" y1="509.07" x2="214.50" y2="511.87" stroke="#6e6e6e" stroke-width="0.8"/>
<line x1="156.00" y1="513.81" x2="201.60" y2="513.81" stroke="#6e6e6e" stroke-width="0.85"/>
<line x1="201.60" y1="512.41" x2="201.60" y2="515.21" stroke="#6e6e6e" stroke-width="0.8"/>
<line x1="173.20" y1="517.16" x2="224.20" y2="517.16" stroke="#6e6e6e" stroke-width="0.85"/>
<line x1="224.20" y1="515.76" x2="224.20" y2="518.56" stroke="#6e6e6e" stroke-width="0.8"/>
<line x1="164.20" y1="520.50" x2="203.40" y2="520.50" stroke="#6e6e6e" stroke-width="0.85"/>
<line x1="203.40" y1="519.11" x2="203.40" y2="521.90" stroke="#6e6e6e" stroke-width="0.8"/>
<line x1="179.50" y1="523.85" x2="231.30" y2="523.85" stroke="#6e6e6e" stroke-width="0.85"/>
<line x1="231.30" y1="522.45" x2="231.30" y2="525.25" stroke="#6e6e6e" stroke-width="0.8"/>
<line x1="147.00" y1="527.19" x2="173.50" y2="527.19" stroke="#6e6e6e" stroke-width="0.85"/>
<line x1="173.50" y1="525.79" x2="173.50" y2="528.59" stroke="#6e6e6e" stroke-width="0.8"/>
<line x1="125.00" y1="530.54" x2="180.40" y2="530.54" stroke="#6e6e6e" stroke-width="0.85"/>
<line x1="180.40" y1="529.14" x2="180.40" y2="531.94" stroke="#6e6e6e" stroke-width="0.8"/>
<line x1="137.20" y1="533.88" x2="171.70" y2="533.88" stroke="#6e6e6e" stroke-width="0.85"/>
<line x1="171.70" y1="532.49" x2="171.70" y2="535.28" stroke="#6e6e6e" stroke-width="0.8"/>
<line x1="126.80" y1="537.23" x2="169.60" y2="537.23" stroke="#6e6e6e" stroke-width="0.85"/>
<line x1="169.60" y1="535.83" x2="169.60" y2="538.63" stroke="#6e6e6e" stroke-width="0.8"/>
<line x1="169.60" y1="540.57" x2="221.20" y2="540.57" stroke="#6e6e6e" stroke-width="0.85"/>
<line x1="221.20" y1="539.17" x2="221.20" y2="541.97" stroke="#6e6e6e" stroke-width="0.8"/>
<line x1="143.50" y1="543.92" x2="172.30" y2="543.92" stroke="#6e6e6e" stroke-width="0.85"/>
<line x1="172.30" y1="542.52" x2="172.30" y2="545.32" stroke="#6e6e6e" stroke-width="0.8"/>
<line x1="116.50" y1="547.26" x2="143.50" y2="547.26" stroke="#6e6e6e" stroke-width="0.85"/>
<line x1="143.50" y1="545.87" x2="143.50" y2="548.66" stroke="#6e6e6e" stroke-width="0.8"/>
<line x1="136.00" y1="550.61" x2="169.80" y2="550.61" stroke="#6e6e6e" stroke-width="0.85"/>
<line x1="169.80" y1="549.21" x2="169.80" y2="552.01" stroke="#6e6e6e" stroke-width="0.8"/>
<line x1="123.00" y1="553.95" x2="149.50" y2="553.95" stroke="#6e6e6e" stroke-width="0.85"/>
<line x1="149.50" y1="552.55" x2="149.50" y2="555.35" stroke="#6e6e6e" stroke-width="0.8"/>
<line x1="114.30" y1="557.30" x2="152.50" y2="557.30" stroke="#6e6e6e" stroke-width="0.85"/>
<line x1="152.50" y1="555.90" x2="152.50" y2="558.70" stroke="#6e6e6e" stroke-width="0.8"/>
<line x1="127.30" y1="560.64" x2="156.40" y2="560.64" stroke="#6e6e6e" stroke-width="0.85"/>
<line x1="156.40" y1="559.25" x2="156.40" y2="562.04" stroke="#6e6e6e" stroke-width="0.8"/>
<line x1="116.50" y1="563.99" x2="145.00" y2="563.99" stroke="#6e6e6e" stroke-width="0.85"/>
<line x1="145.00" y1="562.59" x2="145.00" y2="565.39" stroke="#6e6e6e" stroke-width="0.8"/>
<line x1="114.30" y1="567.34" x2="142.00" y2="567.34" stroke="#6e6e6e" stroke-width="0.85"/>
<line x1="142.00" y1="565.94" x2="142.00" y2="568.74" stroke="#6e6e6e" stroke-width="0.8"/>
<line x1="112.20" y1="570.68" x2="148.90" y2="570.68" stroke="#6e6e6e" stroke-width="0.85"/>
<line x1="148.90" y1="569.28" x2="148.90" y2="572.08" stroke="#6e6e6e" stroke-width="0.8"/>
<line x1="113.30" y1="574.02" x2="133.10" y2="574.02" stroke="#6e6e6e" stroke-width="0.85"/>
<line x1="133.10" y1="572.62" x2="133.10" y2="575.42" stroke="#6e6e6e" stroke-width="0.8"/>
<line x1="108.00" y1="577.37" x2="133.10" y2="577.37" stroke="#6e6e6e" stroke-width="0.85"/>
<line x1="133.10" y1="575.97" x2="133.10" y2="578.77" stroke="#6e6e6e" stroke-width="0.8"/>
<line x1="102.50" y1="580.72" x2="124.70" y2="580.72" stroke="#6e6e6e" stroke-width="0.85"/>
<line x1="124.70" y1="579.32" x2="124.70" y2="582.12" stroke="#6e6e6e" stroke-width="0.8"/>
<line x1="102.50" y1="584.06" x2="123.00" y2="584.06" stroke="#6e6e6e" stroke-width="0.85"/>
<line x1="123.00" y1="582.66" x2="123.00" y2="585.46" stroke="#6e6e6e" stroke-width="0.8"/>
<line x1="97.20" y1="587.40" x2="120.80" y2="587.40" stroke="#6e6e6e" stroke-width="0.85"/>
<line x1="120.80" y1="586.00" x2="120.80" y2="588.80" stroke="#6e6e6e" stroke-width="0.8"/>
<line x1="97.20" y1="590.75" x2="119.70" y2="590.75" stroke="#6e6e6e" stroke-width="0.85"/>
<line x1="119.70" y1="589.35" x2="119.70" y2="592.15" stroke="#6e6e6e" stroke-width="0.8"/>
<line x1="105.00" y1="594.10" x2="126.20" y2="594.10" stroke="#6e6e6e" stroke-width="0.85"/>
<line x1="126.20" y1="592.70" x2="126.20" y2="595.50" stroke="#6e6e6e" stroke-width="0.8"/>
<line x1="105.00" y1="597.44" x2="126.20" y2="597.44" stroke="#6e6e6e" stroke-width="0.85"/>
<line x1="126.20" y1="596.04" x2="126.20" y2="598.84" stroke="#6e6e6e" stroke-width="0.8"/>
<line x1="100.00" y1="600.78" x2="118.60" y2="600.78" stroke="#6e6e6e" stroke-width="0.85"/>
<line x1="118.60" y1="599.38" x2="118.60" y2="602.18" stroke="#6e6e6e" stroke-width="0.8"/>
<line x1="80.00" y1="604.13" x2="98.00" y2="604.13" stroke="#6e6e6e" stroke-width="0.85"/>
<line x1="98.00" y1="602.73" x2="98.00" y2="605.53" stroke="#6e6e6e" stroke-width="0.8"/>
<line x1="80.00" y1="607.48" x2="96.30" y2="607.48" stroke="#6e6e6e" stroke-width="0.85"/>
<line x1="96.30" y1="606.08" x2="96.30" y2="608.88" stroke="#6e6e6e" stroke-width="0.8"/>
<line x1="81.00" y1="610.82" x2="106.10" y2="610.82" stroke="#6e6e6e" stroke-width="0.85"/>
<line x1="106.10" y1="609.42" x2="106.10" y2="612.22" stroke="#6e6e6e" stroke-width="0.8"/>
<line x1="86.40" y1="614.16" x2="105.80" y2="614.16" stroke="#6e6e6e" stroke-width="0.85"/>
<line x1="105.80" y1="612.76" x2="105.80" y2="615.56" stroke="#6e6e6e" stroke-width="0.8"/>
<line x1="106.10" y1="617.51" x2="122.30" y2="617.51" stroke="#6e6e6e" stroke-width="0.85"/>
<line x1="122.30" y1="616.11" x2="122.30" y2="618.91" stroke="#6e6e6e" stroke-width="0.8"/>
<line x1="79.20" y1="620.86" x2="97.50" y2="620.86" stroke="#6e6e6e" stroke-width="0.85"/>
<line x1="97.50" y1="619.46" x2="97.50" y2="622.25" stroke="#6e6e6e" stroke-width="0.8"/>
<line x1="95.40" y1="624.20" x2="114.60" y2="624.20" stroke="#6e6e6e" stroke-width="0.85"/>
<line x1="114.60" y1="622.80" x2="114.60" y2="625.60" stroke="#6e6e6e" stroke-width="0.8"/>
<line x1="79.20" y1="627.54" x2="91.40" y2="627.54" stroke="#6e6e6e" stroke-width="0.85"/>
<line x1="91.40" y1="626.14" x2="91.40" y2="628.94" stroke="#6e6e6e" stroke-width="0.8"/>
<line x1="79.20" y1="630.89" x2="98.60" y2="630.89" stroke="#6e6e6e" stroke-width="0.85"/>
<line x1="98.60" y1="629.49" x2="98.60" y2="632.29" stroke="#6e6e6e" stroke-width="0.8"/>
<line x1="72.00" y1="634.24" x2="86.40" y2="634.24" stroke="#6e6e6e" stroke-width="0.85"/>
<line x1="86.40" y1="632.84" x2="86.40" y2="635.63" stroke="#6e6e6e" stroke-width="0.8"/>
<line x1="73.80" y1="637.58" x2="91.40" y2="637.58" stroke="#6e6e6e" stroke-width="0.85"/>
<line x1="91.40" y1="636.18" x2="91.40" y2="638.98" stroke="#6e6e6e" stroke-width="0.8"/>
<line x1="66.60" y1="640.92" x2="79.70" y2="640.92" stroke="#6e6e6e" stroke-width="0.85"/>
<line x1="79.70" y1="639.52" x2="79.70" y2="642.32" stroke="#6e6e6e" stroke-width="0.8"/>
<line x1="77.40" y1="644.27" x2="90.30" y2="644.27" stroke="#6e6e6e" stroke-width="0.85"/>
<line x1="90.30" y1="642.87" x2="90.30" y2="645.67" stroke="#6e6e6e" stroke-width="0.8"/>
<line x1="79.20" y1="647.62" x2="96.30" y2="647.62" stroke="#6e6e6e" stroke-width="0.85"/>
<line x1="96.30" y1="646.22" x2="96.30" y2="649.01" stroke="#6e6e6e" stroke-width="0.8"/>
<line x1="82.80" y1="650.96" x2="91.80" y2="650.96" stroke="#6e6e6e" stroke-width="0.85"/>
<line x1="91.80" y1="649.56" x2="91.80" y2="652.36" stroke="#6e6e6e" stroke-width="0.8"/>
<line x1="66.60" y1="654.30" x2="75.40" y2="654.30" stroke="#6e6e6e" stroke-width="0.85"/>
<line x1="75.40" y1="652.90" x2="75.40" y2="655.70" stroke="#6e6e6e" stroke-width="0.8"/>
<line x1="64.00" y1="657.65" x2="73.40" y2="657.65" stroke="#6e6e6e" stroke-width="0.85"/>
<line x1="73.40" y1="656.25" x2="73.40" y2="659.05" stroke="#6e6e6e" stroke-width="0.8"/>
<line x1="58.30" y1="661.00" x2="68.40" y2="661.00" stroke="#6e6e6e" stroke-width="0.85"/>
<line x1="68.40" y1="659.60" x2="68.40" y2="662.39" stroke="#6e6e6e" stroke-width="0.8"/>
<line x1="54.00" y1="664.34" x2="60.40" y2="664.34" stroke="#6e6e6e" stroke-width="0.85"/>
<line x1="60.40" y1="662.94" x2="60.40" y2="665.74" stroke="#6e6e6e" stroke-width="0.8"/>
<line x1="51.10" y1="667.68" x2="58.60" y2="667.68" stroke="#6e6e6e" stroke-width="0.85"/>
<line x1="58.60" y1="666.28" x2="58.60" y2="669.08" stroke="#6e6e6e" stroke-width="0.8"/>
<line x1="49.00" y1="671.03" x2="55.00" y2="671.03" stroke="#6e6e6e" stroke-width="0.85"/>
<line x1="55.00" y1="669.63" x2="55.00" y2="672.43" stroke="#6e6e6e" stroke-width="0.8"/>
<line x1="48.50" y1="674.38" x2="53.60" y2="674.38" stroke="#6e6e6e" stroke-width="0.85"/>
<line x1="53.60" y1="672.98" x2="53.60" y2="675.77" stroke="#6e6e6e" stroke-width="0.8"/>
<line x1="173.50" y1="681.10" x2="199.40" y2="681.10" stroke="#6e6e6e" stroke-width="0.85"/>
<line x1="199.40" y1="679.70" x2="199.40" y2="682.50" stroke="#6e6e6e" stroke-width="0.8"/>
<line x1="230.00" y1="45.15" x2="260.00" y2="45.15" stroke="#5a5f6a" stroke-width="1.0"/>
<line x1="260.00" y1="43.75" x2="260.00" y2="46.55" stroke="#4e5562" stroke-width="0.9"/>
<line x1="172.00" y1="48.49" x2="193.50" y2="48.49" stroke="#5a5f6a" stroke-width="1.0"/>
<line x1="193.50" y1="47.09" x2="193.50" y2="49.89" stroke="#4e5562" stroke-width="0.9"/>
<line x1="183.00" y1="51.84" x2="204.20" y2="51.84" stroke="#5a5f6a" stroke-width="1.0"/>
<line x1="204.20" y1="50.44" x2="204.20" y2="53.24" stroke="#4e5562" stroke-width="0.9"/>
<line x1="140.00" y1="55.19" x2="158.50" y2="55.19" stroke="#5a5f6a" stroke-width="1.0"/>
<line x1="158.50" y1="53.79" x2="158.50" y2="56.59" stroke="#4e5562" stroke-width="0.9"/>
<line x1="140.00" y1="58.53" x2="158.50" y2="58.53" stroke="#5a5f6a" stroke-width="1.0"/>
<line x1="158.50" y1="57.13" x2="158.50" y2="59.93" stroke="#4e5562" stroke-width="0.9"/>
<line x1="163.30" y1="61.88" x2="185.40" y2="61.88" stroke="#5a5f6a" stroke-width="1.0"/>
<line x1="185.40" y1="60.48" x2="185.40" y2="63.27" stroke="#4e5562" stroke-width="0.9"/>
<line x1="140.00" y1="65.22" x2="157.60" y2="65.22" stroke="#5a5f6a" stroke-width="1.0"/>
<line x1="157.60" y1="63.82" x2="157.60" y2="66.62" stroke="#4e5562" stroke-width="0.9"/>
<line x1="129.00" y1="68.56" x2="145.40" y2="68.56" stroke="#5a5f6a" stroke-width="1.0"/>
<line x1="145.40" y1="67.16" x2="145.40" y2="69.97" stroke="#4e5562" stroke-width="0.9"/>
<line x1="134.60" y1="71.91" x2="154.30" y2="71.91" stroke="#5a5f6a" stroke-width="1.0"/>
<line x1="154.30" y1="70.51" x2="154.30" y2="73.31" stroke="#4e5562" stroke-width="0.9"/>
<line x1="150.00" y1="75.25" x2="166.40" y2="75.25" stroke="#5a5f6a" stroke-width="1.0"/>
<line x1="166.40" y1="73.85" x2="166.40" y2="76.66" stroke="#4e5562" stroke-width="0.9"/>
<line x1="95.00" y1="78.60" x2="107.60" y2="78.60" stroke="#5a5f6a" stroke-width="1.0"/>
<line x1="107.60" y1="77.20" x2="107.60" y2="80.00" stroke="#4e5562" stroke-width="0.9"/>
<line x1="145.40" y1="81.94" x2="163.00" y2="81.94" stroke="#5a5f6a" stroke-width="1.0"/>
<line x1="163.00" y1="80.54" x2="163.00" y2="83.34" stroke="#4e5562" stroke-width="0.9"/>
<line x1="114.80" y1="85.29" x2="128.60" y2="85.29" stroke="#5a5f6a" stroke-width="1.0"/>
<line x1="128.60" y1="83.89" x2="128.60" y2="86.69" stroke="#4e5562" stroke-width="0.9"/>
<line x1="104.00" y1="88.63" x2="114.80" y2="88.63" stroke="#5a5f6a" stroke-width="1.0"/>
<line x1="114.80" y1="87.23" x2="114.80" y2="90.03" stroke="#4e5562" stroke-width="0.9"/>
<line x1="129.00" y1="91.98" x2="143.60" y2="91.98" stroke="#5a5f6a" stroke-width="1.0"/>
<line x1="143.60" y1="90.58" x2="143.60" y2="93.38" stroke="#4e5562" stroke-width="0.9"/>
<line x1="98.60" y1="95.33" x2="110.80" y2="95.33" stroke="#5a5f6a" stroke-width="1.0"/>
<line x1="110.80" y1="93.92" x2="110.80" y2="96.73" stroke="#4e5562" stroke-width="0.9"/>
<line x1="132.80" y1="98.67" x2="146.60" y2="98.67" stroke="#5a5f6a" stroke-width="1.0"/>
<line x1="146.60" y1="97.27" x2="146.60" y2="100.07" stroke="#4e5562" stroke-width="0.9"/>
<line x1="146.00" y1="102.02" x2="154.30" y2="102.02" stroke="#5a5f6a" stroke-width="1.0"/>
<line x1="154.30" y1="100.61" x2="154.30" y2="103.42" stroke="#4e5562" stroke-width="0.9"/>
<line x1="71.00" y1="105.36" x2="76.50" y2="105.36" stroke="#5a5f6a" stroke-width="1.0"/>
<line x1="76.50" y1="103.96" x2="76.50" y2="106.76" stroke="#4e5562" stroke-width="0.9"/>
<line x1="80.00" y1="108.71" x2="95.40" y2="108.71" stroke="#5a5f6a" stroke-width="1.0"/>
<line x1="95.40" y1="107.31" x2="95.40" y2="110.11" stroke="#4e5562" stroke-width="0.9"/>
<line x1="88.00" y1="112.05" x2="100.40" y2="112.05" stroke="#5a5f6a" stroke-width="1.0"/>
<line x1="100.40" y1="110.65" x2="100.40" y2="113.45" stroke="#4e5562" stroke-width="0.9"/>
<line x1="74.70" y1="115.40" x2="81.30" y2="115.40" stroke="#5a5f6a" stroke-width="1.0"/>
<line x1="81.30" y1="114.00" x2="81.30" y2="116.80" stroke="#4e5562" stroke-width="0.9"/>
<line x1="100.70" y1="118.74" x2="115.10" y2="118.74" stroke="#5a5f6a" stroke-width="1.0"/>
<line x1="115.10" y1="117.34" x2="115.10" y2="120.14" stroke="#4e5562" stroke-width="0.9"/>
<line x1="77.40" y1="122.09" x2="83.70" y2="122.09" stroke="#5a5f6a" stroke-width="1.0"/>
<line x1="83.70" y1="120.69" x2="83.70" y2="123.49" stroke="#4e5562" stroke-width="0.9"/>
<line x1="84.60" y1="125.43" x2="92.30" y2="125.43" stroke="#5a5f6a" stroke-width="1.0"/>
<line x1="92.30" y1="124.03" x2="92.30" y2="126.83" stroke="#4e5562" stroke-width="0.9"/>
<line x1="63.00" y1="128.78" x2="67.50" y2="128.78" stroke="#5a5f6a" stroke-width="1.0"/>
<line x1="67.50" y1="127.38" x2="67.50" y2="130.18" stroke="#4e5562" stroke-width="0.9"/>
<line x1="72.00" y1="132.12" x2="77.00" y2="132.12" stroke="#5a5f6a" stroke-width="1.0"/>
<line x1="77.00" y1="130.72" x2="77.00" y2="133.52" stroke="#4e5562" stroke-width="0.9"/>
<line x1="104.30" y1="135.47" x2="118.40" y2="135.47" stroke="#5a5f6a" stroke-width="1.0"/>
<line x1="118.40" y1="134.06" x2="118.40" y2="136.87" stroke="#4e5562" stroke-width="0.9"/>
<line x1="102.50" y1="138.81" x2="115.10" y2="138.81" stroke="#5a5f6a" stroke-width="1.0"/>
<line x1="115.10" y1="137.41" x2="115.10" y2="140.21" stroke="#4e5562" stroke-width="0.9"/>
<line x1="84.60" y1="142.16" x2="93.60" y2="142.16" stroke="#5a5f6a" stroke-width="1.0"/>
<line x1="93.60" y1="140.75" x2="93.60" y2="143.56" stroke="#4e5562" stroke-width="0.9"/>
<line x1="73.80" y1="145.50" x2="83.70" y2="145.50" stroke="#5a5f6a" stroke-width="1.0"/>
<line x1="83.70" y1="144.10" x2="83.70" y2="146.90" stroke="#4e5562" stroke-width="0.9"/>
<line x1="81.00" y1="148.84" x2="88.50" y2="148.84" stroke="#5a5f6a" stroke-width="1.0"/>
<line x1="88.50" y1="147.44" x2="88.50" y2="150.25" stroke="#4e5562" stroke-width="0.9"/>
<line x1="63.00" y1="152.19" x2="77.40" y2="152.19" stroke="#5a5f6a" stroke-width="1.0"/>
<line x1="77.40" y1="150.79" x2="77.40" y2="153.59" stroke="#4e5562" stroke-width="0.9"/>
<line x1="48.60" y1="155.53" x2="51.30" y2="155.53" stroke="#5a5f6a" stroke-width="1.0"/>
<line x1="51.30" y1="154.13" x2="51.30" y2="156.94" stroke="#4e5562" stroke-width="0.9"/>
<line x1="68.40" y1="158.88" x2="72.90" y2="158.88" stroke="#5a5f6a" stroke-width="1.0"/>
<line x1="72.90" y1="157.48" x2="72.90" y2="160.28" stroke="#4e5562" stroke-width="0.9"/>
<line x1="78.30" y1="162.22" x2="83.10" y2="162.22" stroke="#5a5f6a" stroke-width="1.0"/>
<line x1="83.10" y1="160.82" x2="83.10" y2="163.62" stroke="#4e5562" stroke-width="0.9"/>
<line x1="81.00" y1="165.57" x2="87.60" y2="165.57" stroke="#5a5f6a" stroke-width="1.0"/>
<line x1="87.60" y1="164.17" x2="87.60" y2="166.97" stroke="#4e5562" stroke-width="0.9"/>
<line x1="112.60" y1="168.91" x2="128.40" y2="168.91" stroke="#5a5f6a" stroke-width="1.0"/>
<line x1="128.40" y1="167.51" x2="128.40" y2="170.31" stroke="#4e5562" stroke-width="0.9"/>
<line x1="54.00" y1="172.26" x2="57.60" y2="172.26" stroke="#5a5f6a" stroke-width="1.0"/>
<line x1="57.60" y1="170.86" x2="57.60" y2="173.66" stroke="#4e5562" stroke-width="0.9"/>
<line x1="72.00" y1="175.61" x2="77.70" y2="175.61" stroke="#5a5f6a" stroke-width="1.0"/>
<line x1="77.70" y1="174.21" x2="77.70" y2="177.01" stroke="#4e5562" stroke-width="0.9"/>
<line x1="57.60" y1="178.95" x2="61.50" y2="178.95" stroke="#5a5f6a" stroke-width="1.0"/>
<line x1="61.50" y1="177.55" x2="61.50" y2="180.35" stroke="#4e5562" stroke-width="0.9"/>
<line x1="90.00" y1="182.30" x2="105.20" y2="182.30" stroke="#5a5f6a" stroke-width="1.0"/>
<line x1="105.20" y1="180.90" x2="105.20" y2="183.70" stroke="#4e5562" stroke-width="0.9"/>
<line x1="55.80" y1="185.64" x2="62.60" y2="185.64" stroke="#5a5f6a" stroke-width="1.0"/>
<line x1="62.60" y1="184.24" x2="62.60" y2="187.04" stroke="#4e5562" stroke-width="0.9"/>
<line x1="105.40" y1="188.99" x2="119.50" y2="188.99" stroke="#5a5f6a" stroke-width="1.0"/>
<line x1="119.50" y1="187.59" x2="119.50" y2="190.39" stroke="#4e5562" stroke-width="0.9"/>
<line x1="51.30" y1="192.33" x2="54.90" y2="192.33" stroke="#5a5f6a" stroke-width="1.0"/>
<line x1="54.90" y1="190.93" x2="54.90" y2="193.73" stroke="#4e5562" stroke-width="0.9"/>
<line x1="64.80" y1="195.68" x2="69.30" y2="195.68" stroke="#5a5f6a" stroke-width="1.0"/>
<line x1="69.30" y1="194.28" x2="69.30" y2="197.08" stroke="#4e5562" stroke-width="0.9"/>
<line x1="63.00" y1="199.02" x2="66.20" y2="199.02" stroke="#5a5f6a" stroke-width="1.0"/>
<line x1="66.20" y1="197.62" x2="66.20" y2="200.42" stroke="#4e5562" stroke-width="0.9"/>
<line x1="48.60" y1="202.37" x2="51.80" y2="202.37" stroke="#5a5f6a" stroke-width="1.0"/>
<line x1="51.80" y1="200.97" x2="51.80" y2="203.77" stroke="#4e5562" stroke-width="0.9"/>
<line x1="46.80" y1="205.71" x2="49.00" y2="205.71" stroke="#5a5f6a" stroke-width="1.0"/>
<line x1="49.00" y1="204.31" x2="49.00" y2="207.11" stroke="#4e5562" stroke-width="0.9"/>
<line x1="63.00" y1="209.06" x2="66.90" y2="209.06" stroke="#5a5f6a" stroke-width="1.0"/>
<line x1="66.90" y1="207.66" x2="66.90" y2="210.46" stroke="#4e5562" stroke-width="0.9"/>
<line x1="47.70" y1="212.40" x2="50.40" y2="212.40" stroke="#5a5f6a" stroke-width="1.0"/>
<line x1="50.40" y1="211.00" x2="50.40" y2="213.80" stroke="#4e5562" stroke-width="0.9"/>
<line x1="84.60" y1="215.75" x2="88.70" y2="215.75" stroke="#5a5f6a" stroke-width="1.0"/>
<line x1="88.70" y1="214.34" x2="88.70" y2="217.15" stroke="#4e5562" stroke-width="0.9"/>
<line x1="48.60" y1="219.09" x2="50.40" y2="219.09" stroke="#5a5f6a" stroke-width="1.0"/>
<line x1="50.40" y1="217.69" x2="50.40" y2="220.49" stroke="#4e5562" stroke-width="0.9"/>
<line x1="63.00" y1="222.44" x2="66.20" y2="222.44" stroke="#5a5f6a" stroke-width="1.0"/>
<line x1="66.20" y1="221.03" x2="66.20" y2="223.84" stroke="#4e5562" stroke-width="0.9"/>
<line x1="52.20" y1="225.78" x2="54.50" y2="225.78" stroke="#5a5f6a" stroke-width="1.0"/>
<line x1="54.50" y1="224.38" x2="54.50" y2="227.18" stroke="#4e5562" stroke-width="0.9"/>
<line x1="64.80" y1="229.13" x2="68.40" y2="229.13" stroke="#5a5f6a" stroke-width="1.0"/>
<line x1="68.40" y1="227.73" x2="68.40" y2="230.53" stroke="#4e5562" stroke-width="0.9"/>
<line x1="43.20" y1="232.47" x2="45.40" y2="232.47" stroke="#5a5f6a" stroke-width="1.0"/>
<line x1="45.40" y1="231.07" x2="45.40" y2="233.87" stroke="#4e5562" stroke-width="0.9"/>
<line x1="40.50" y1="235.82" x2="42.70" y2="235.82" stroke="#5a5f6a" stroke-width="1.0"/>
<line x1="42.70" y1="234.42" x2="42.70" y2="237.22" stroke="#4e5562" stroke-width="0.9"/>
<line x1="38.70" y1="239.16" x2="39.60" y2="239.16" stroke="#5a5f6a" stroke-width="1.0"/>
<line x1="39.60" y1="237.76" x2="39.60" y2="240.56" stroke="#4e5562" stroke-width="0.9"/>
<line x1="128.00" y1="246.20" x2="136.20" y2="246.20" stroke="#5a5f6a" stroke-width="1.0"/>
<line x1="136.20" y1="244.80" x2="136.20" y2="247.60" stroke="#4e5562" stroke-width="0.9"/>
<line x1="307.20" y1="249.50" x2="346.80" y2="249.50" stroke="#5a5f6a" stroke-width="1.0"/>
<line x1="346.80" y1="248.10" x2="346.80" y2="250.90" stroke="#4e5562" stroke-width="0.9"/>
<line x1="104.30" y1="252.80" x2="115.10" y2="252.80" stroke="#5a5f6a" stroke-width="1.0"/>
<line x1="115.10" y1="251.40" x2="115.10" y2="254.20" stroke="#4e5562" stroke-width="0.9"/>
<line x1="336.00" y1="259.60" x2="376.60" y2="259.60" stroke="#5a5f6a" stroke-width="1.0"/>
<line x1="376.60" y1="258.20" x2="376.60" y2="261.00" stroke="#4e5562" stroke-width="0.9"/>
<line x1="278.30" y1="262.90" x2="312.40" y2="262.90" stroke="#5a5f6a" stroke-width="1.0"/>
<line x1="312.40" y1="261.50" x2="312.40" y2="264.30" stroke="#4e5562" stroke-width="0.9"/>
<line x1="111.50" y1="266.20" x2="120.50" y2="266.20" stroke="#5a5f6a" stroke-width="1.0"/>
<line x1="120.50" y1="264.80" x2="120.50" y2="267.60" stroke="#4e5562" stroke-width="0.9"/>
<line x1="276.80" y1="272.80" x2="296.90" y2="272.80" stroke="#5a5f6a" stroke-width="1.0"/>
<line x1="296.90" y1="271.40" x2="296.90" y2="274.20" stroke="#4e5562" stroke-width="0.9"/>
<line x1="192.30" y1="276.16" x2="205.80" y2="276.16" stroke="#5a5f6a" stroke-width="1.0"/>
<line x1="205.80" y1="274.76" x2="205.80" y2="277.56" stroke="#4e5562" stroke-width="0.9"/>
<line x1="148.30" y1="279.51" x2="162.20" y2="279.51" stroke="#5a5f6a" stroke-width="1.0"/>
<line x1="162.20" y1="278.11" x2="162.20" y2="280.91" stroke="#4e5562" stroke-width="0.9"/>
<line x1="150.00" y1="282.87" x2="162.20" y2="282.87" stroke="#5a5f6a" stroke-width="1.0"/>
<line x1="162.20" y1="281.47" x2="162.20" y2="284.26" stroke="#4e5562" stroke-width="0.9"/>
<line x1="164.50" y1="286.22" x2="174.30" y2="286.22" stroke="#5a5f6a" stroke-width="1.0"/>
<line x1="174.30" y1="284.82" x2="174.30" y2="287.62" stroke="#4e5562" stroke-width="0.9"/>
<line x1="168.00" y1="289.57" x2="176.60" y2="289.57" stroke="#5a5f6a" stroke-width="1.0"/>
<line x1="176.60" y1="288.18" x2="176.60" y2="290.97" stroke="#4e5562" stroke-width="0.9"/>
<line x1="170.00" y1="292.93" x2="179.30" y2="292.93" stroke="#5a5f6a" stroke-width="1.0"/>
<line x1="179.30" y1="291.53" x2="179.30" y2="294.33" stroke="#4e5562" stroke-width="0.9"/>
<line x1="135.80" y1="296.29" x2="145.30" y2="296.29" stroke="#5a5f6a" stroke-width="1.0"/>
<line x1="145.30" y1="294.89" x2="145.30" y2="297.69" stroke="#4e5562" stroke-width="0.9"/>
<line x1="162.70" y1="299.64" x2="172.50" y2="299.64" stroke="#5a5f6a" stroke-width="1.0"/>
<line x1="172.50" y1="298.24" x2="172.50" y2="301.04" stroke="#4e5562" stroke-width="0.9"/>
<line x1="152.00" y1="303.00" x2="164.40" y2="303.00" stroke="#5a5f6a" stroke-width="1.0"/>
<line x1="164.40" y1="301.60" x2="164.40" y2="304.39" stroke="#4e5562" stroke-width="0.9"/>
<line x1="144.70" y1="306.35" x2="155.40" y2="306.35" stroke="#5a5f6a" stroke-width="1.0"/>
<line x1="155.40" y1="304.95" x2="155.40" y2="307.75" stroke="#4e5562" stroke-width="0.9"/>
<line x1="168.00" y1="309.71" x2="175.50" y2="309.71" stroke="#5a5f6a" stroke-width="1.0"/>
<line x1="175.50" y1="308.31" x2="175.50" y2="311.11" stroke="#4e5562" stroke-width="0.9"/>
<line x1="170.00" y1="313.06" x2="180.90" y2="313.06" stroke="#5a5f6a" stroke-width="1.0"/>
<line x1="180.90" y1="311.66" x2="180.90" y2="314.46" stroke="#4e5562" stroke-width="0.9"/>
<line x1="143.00" y1="316.42" x2="155.80" y2="316.42" stroke="#5a5f6a" stroke-width="1.0"/>
<line x1="155.80" y1="315.02" x2="155.80" y2="317.81" stroke="#4e5562" stroke-width="0.9"/>
<line x1="128.60" y1="319.77" x2="139.40" y2="319.77" stroke="#5a5f6a" stroke-width="1.0"/>
<line x1="139.40" y1="318.37" x2="139.40" y2="321.17" stroke="#4e5562" stroke-width="0.9"/>
<line x1="153.70" y1="323.12" x2="164.40" y2="323.12" stroke="#5a5f6a" stroke-width="1.0"/>
<line x1="164.40" y1="321.73" x2="164.40" y2="324.52" stroke="#4e5562" stroke-width="0.9"/>
<line x1="148.30" y1="326.48" x2="159.40" y2="326.48" stroke="#5a5f6a" stroke-width="1.0"/>
<line x1="159.40" y1="325.08" x2="159.40" y2="327.88" stroke="#4e5562" stroke-width="0.9"/>
<line x1="155.00" y1="329.84" x2="165.30" y2="329.84" stroke="#5a5f6a" stroke-width="1.0"/>
<line x1="165.30" y1="328.44" x2="165.30" y2="331.24" stroke="#4e5562" stroke-width="0.9"/>
<line x1="132.20" y1="333.19" x2="140.30" y2="333.19" stroke="#5a5f6a" stroke-width="1.0"/>
<line x1="140.30" y1="331.79" x2="140.30" y2="334.59" stroke="#4e5562" stroke-width="0.9"/>
<line x1="139.40" y1="336.55" x2="147.40" y2="336.55" stroke="#5a5f6a" stroke-width="1.0"/>
<line x1="147.40" y1="335.15" x2="147.40" y2="337.94" stroke="#4e5562" stroke-width="0.9"/>
<line x1="155.50" y1="339.90" x2="166.00" y2="339.90" stroke="#5a5f6a" stroke-width="1.0"/>
<line x1="166.00" y1="338.50" x2="166.00" y2="341.30" stroke="#4e5562" stroke-width="0.9"/>
<line x1="139.40" y1="343.25" x2="148.70" y2="343.25" stroke="#5a5f6a" stroke-width="1.0"/>
<line x1="148.70" y1="341.86" x2="148.70" y2="344.65" stroke="#4e5562" stroke-width="0.9"/>
<line x1="114.20" y1="346.61" x2="122.60" y2="346.61" stroke="#5a5f6a" stroke-width="1.0"/>
<line x1="122.60" y1="345.21" x2="122.60" y2="348.01" stroke="#4e5562" stroke-width="0.9"/>
<line x1="128.60" y1="349.97" x2="136.50" y2="349.97" stroke="#5a5f6a" stroke-width="1.0"/>
<line x1="136.50" y1="348.57" x2="136.50" y2="351.37" stroke="#4e5562" stroke-width="0.9"/>
<line x1="135.80" y1="353.32" x2="143.40" y2="353.32" stroke="#5a5f6a" stroke-width="1.0"/>
<line x1="143.40" y1="351.92" x2="143.40" y2="354.72" stroke="#4e5562" stroke-width="0.9"/>
<line x1="108.80" y1="356.68" x2="116.30" y2="356.68" stroke="#5a5f6a" stroke-width="1.0"/>
<line x1="116.30" y1="355.28" x2="116.30" y2="358.07" stroke="#4e5562" stroke-width="0.9"/>
<line x1="132.20" y1="360.03" x2="140.30" y2="360.03" stroke="#5a5f6a" stroke-width="1.0"/>
<line x1="140.30" y1="358.63" x2="140.30" y2="361.43" stroke="#4e5562" stroke-width="0.9"/>
<line x1="74.40" y1="363.38" x2="81.30" y2="363.38" stroke="#5a5f6a" stroke-width="1.0"/>
<line x1="81.30" y1="361.99" x2="81.30" y2="364.78" stroke="#4e5562" stroke-width="0.9"/>
<line x1="111.50" y1="366.74" x2="118.70" y2="366.74" stroke="#5a5f6a" stroke-width="1.0"/>
<line x1="118.70" y1="365.34" x2="118.70" y2="368.14" stroke="#4e5562" stroke-width="0.9"/>
<line x1="127.60" y1="370.10" x2="136.50" y2="370.10" stroke="#5a5f6a" stroke-width="1.0"/>
<line x1="136.50" y1="368.70" x2="136.50" y2="371.50" stroke="#4e5562" stroke-width="0.9"/>
<line x1="121.40" y1="373.45" x2="125.90" y2="373.45" stroke="#5a5f6a" stroke-width="1.0"/>
<line x1="125.90" y1="372.05" x2="125.90" y2="374.85" stroke="#4e5562" stroke-width="0.9"/>
<line x1="130.40" y1="376.81" x2="138.00" y2="376.81" stroke="#5a5f6a" stroke-width="1.0"/>
<line x1="138.00" y1="375.41" x2="138.00" y2="378.20" stroke="#4e5562" stroke-width="0.9"/>
<line x1="110.60" y1="380.16" x2="115.10" y2="380.16" stroke="#5a5f6a" stroke-width="1.0"/>
<line x1="115.10" y1="378.76" x2="115.10" y2="381.56" stroke="#4e5562" stroke-width="0.9"/>
<line x1="108.80" y1="383.51" x2="114.20" y2="383.51" stroke="#5a5f6a" stroke-width="1.0"/>
<line x1="114.20" y1="382.12" x2="114.20" y2="384.91" stroke="#4e5562" stroke-width="0.9"/>
<line x1="108.60" y1="386.87" x2="114.00" y2="386.87" stroke="#5a5f6a" stroke-width="1.0"/>
<line x1="114.00" y1="385.47" x2="114.00" y2="388.27" stroke="#4e5562" stroke-width="0.9"/>
<line x1="85.20" y1="390.23" x2="90.90" y2="390.23" stroke="#5a5f6a" stroke-width="1.0"/>
<line x1="90.90" y1="388.83" x2="90.90" y2="391.62" stroke="#4e5562" stroke-width="0.9"/>
<line x1="90.60" y1="393.58" x2="96.90" y2="393.58" stroke="#5a5f6a" stroke-width="1.0"/>
<line x1="96.90" y1="392.18" x2="96.90" y2="394.98" stroke="#4e5562" stroke-width="0.9"/>
<line x1="59.00" y1="396.94" x2="62.40" y2="396.94" stroke="#5a5f6a" stroke-width="1.0"/>
<line x1="62.40" y1="395.54" x2="62.40" y2="398.33" stroke="#4e5562" stroke-width="0.9"/>
<line x1="69.00" y1="400.29" x2="72.90" y2="400.29" stroke="#5a5f6a" stroke-width="1.0"/>
<line x1="72.90" y1="398.89" x2="72.90" y2="401.69" stroke="#4e5562" stroke-width="0.9"/>
<line x1="54.00" y1="403.64" x2="57.60" y2="403.64" stroke="#5a5f6a" stroke-width="1.0"/>
<line x1="57.60" y1="402.25" x2="57.60" y2="405.04" stroke="#4e5562" stroke-width="0.9"/>
<line x1="50.00" y1="407.00" x2="54.30" y2="407.00" stroke="#5a5f6a" stroke-width="1.0"/>
<line x1="54.30" y1="405.60" x2="54.30" y2="408.40" stroke="#4e5562" stroke-width="0.9"/>
<line x1="61.20" y1="415.20" x2="71.10" y2="415.20" stroke="#5a5f6a" stroke-width="1.0"/>
<line x1="71.10" y1="413.80" x2="71.10" y2="416.60" stroke="#4e5562" stroke-width="0.9"/>
<line x1="100.70" y1="418.55" x2="115.50" y2="418.55" stroke="#5a5f6a" stroke-width="1.0"/>
<line x1="115.50" y1="417.15" x2="115.50" y2="419.94" stroke="#4e5562" stroke-width="0.9"/>
<line x1="79.20" y1="421.89" x2="86.70" y2="421.89" stroke="#5a5f6a" stroke-width="1.0"/>
<line x1="86.70" y1="420.49" x2="86.70" y2="423.29" stroke="#4e5562" stroke-width="0.9"/>
<line x1="81.00" y1="425.24" x2="90.30" y2="425.24" stroke="#5a5f6a" stroke-width="1.0"/>
<line x1="90.30" y1="423.84" x2="90.30" y2="426.63" stroke="#4e5562" stroke-width="0.9"/>
<line x1="63.00" y1="428.58" x2="68.90" y2="428.58" stroke="#5a5f6a" stroke-width="1.0"/>
<line x1="68.90" y1="427.18" x2="68.90" y2="429.98" stroke="#4e5562" stroke-width="0.9"/>
<line x1="50.40" y1="431.93" x2="54.00" y2="431.93" stroke="#5a5f6a" stroke-width="1.0"/>
<line x1="54.00" y1="430.53" x2="54.00" y2="433.32" stroke="#4e5562" stroke-width="0.9"/>
<line x1="72.00" y1="435.27" x2="80.10" y2="435.27" stroke="#5a5f6a" stroke-width="1.0"/>
<line x1="80.10" y1="433.87" x2="80.10" y2="436.67" stroke="#4e5562" stroke-width="0.9"/>
<line x1="57.60" y1="438.62" x2="66.60" y2="438.62" stroke="#5a5f6a" stroke-width="1.0"/>
<line x1="66.60" y1="437.22" x2="66.60" y2="440.01" stroke="#4e5562" stroke-width="0.9"/>
<line x1="46.80" y1="441.96" x2="50.00" y2="441.96" stroke="#5a5f6a" stroke-width="1.0"/>
<line x1="50.00" y1="440.56" x2="50.00" y2="443.36" stroke="#4e5562" stroke-width="0.9"/>
<line x1="45.00" y1="445.31" x2="47.70" y2="445.31" stroke="#5a5f6a" stroke-width="1.0"/>
<line x1="47.70" y1="443.91" x2="47.70" y2="446.70" stroke="#4e5562" stroke-width="0.9"/>
<line x1="48.60" y1="448.65" x2="51.80" y2="448.65" stroke="#5a5f6a" stroke-width="1.0"/>
<line x1="51.80" y1="447.25" x2="51.80" y2="450.05" stroke="#4e5562" stroke-width="0.9"/>
<line x1="40.50" y1="452.00" x2="43.20" y2="452.00" stroke="#5a5f6a" stroke-width="1.0"/>
<line x1="43.20" y1="450.60" x2="43.20" y2="453.39" stroke="#4e5562" stroke-width="0.9"/>
<line x1="111.50" y1="459.10" x2="123.50" y2="459.10" stroke="#5a5f6a" stroke-width="1.0"/>
<line x1="123.50" y1="457.70" x2="123.50" y2="460.50" stroke="#4e5562" stroke-width="0.9"/>
<line x1="352.00" y1="465.60" x2="394.00" y2="465.60" stroke="#5a5f6a" stroke-width="1.0"/>
<line x1="394.00" y1="464.20" x2="394.00" y2="467.00" stroke="#4e5562" stroke-width="0.9"/>
<line x1="373.50" y1="468.95" x2="406.00" y2="468.95" stroke="#5a5f6a" stroke-width="1.0"/>
<line x1="406.00" y1="467.55" x2="406.00" y2="470.35" stroke="#4e5562" stroke-width="0.9"/>
<line x1="385.00" y1="472.29" x2="425.60" y2="472.29" stroke="#5a5f6a" stroke-width="1.0"/>
<line x1="425.60" y1="470.89" x2="425.60" y2="473.69" stroke="#4e5562" stroke-width="0.9"/>
<line x1="78.00" y1="475.64" x2="82.30" y2="475.64" stroke="#5a5f6a" stroke-width="1.0"/>
<line x1="82.30" y1="474.24" x2="82.30" y2="477.04" stroke="#4e5562" stroke-width="0.9"/>
<line x1="75.70" y1="478.98" x2="80.40" y2="478.98" stroke="#5a5f6a" stroke-width="1.0"/>
<line x1="80.40" y1="477.58" x2="80.40" y2="480.38" stroke="#4e5562" stroke-width="0.9"/>
<line x1="54.70" y1="482.33" x2="59.40" y2="482.33" stroke="#5a5f6a" stroke-width="1.0"/>
<line x1="59.40" y1="480.93" x2="59.40" y2="483.73" stroke="#4e5562" stroke-width="0.9"/>
<line x1="111.50" y1="490.40" x2="126.50" y2="490.40" stroke="#5a5f6a" stroke-width="1.0"/>
<line x1="126.50" y1="489.00" x2="126.50" y2="491.80" stroke="#4e5562" stroke-width="0.9"/>
<line x1="68.40" y1="493.75" x2="75.60" y2="493.75" stroke="#5a5f6a" stroke-width="1.0"/>
<line x1="75.60" y1="492.35" x2="75.60" y2="495.14" stroke="#4e5562" stroke-width="0.9"/>
<line x1="84.60" y1="497.09" x2="95.40" y2="497.09" stroke="#5a5f6a" stroke-width="1.0"/>
<line x1="95.40" y1="495.69" x2="95.40" y2="498.49" stroke="#4e5562" stroke-width="0.9"/>
<line x1="43.20" y1="500.44" x2="45.40" y2="500.44" stroke="#5a5f6a" stroke-width="1.0"/>
<line x1="45.40" y1="499.04" x2="45.40" y2="501.83" stroke="#4e5562" stroke-width="0.9"/>
<line x1="63.00" y1="503.78" x2="74.30" y2="503.78" stroke="#5a5f6a" stroke-width="1.0"/>
<line x1="74.30" y1="502.38" x2="74.30" y2="505.18" stroke="#4e5562" stroke-width="0.9"/>
<line x1="68.40" y1="507.12" x2="75.60" y2="507.12" stroke="#5a5f6a" stroke-width="1.0"/>
<line x1="75.60" y1="505.73" x2="75.60" y2="508.52" stroke="#4e5562" stroke-width="0.9"/>
<line x1="77.40" y1="510.47" x2="99.30" y2="510.47" stroke="#5a5f6a" stroke-width="1.0"/>
<line x1="99.30" y1="509.07" x2="99.30" y2="511.87" stroke="#4e5562" stroke-width="0.9"/>
<line x1="48.60" y1="513.81" x2="54.50" y2="513.81" stroke="#5a5f6a" stroke-width="1.0"/>
<line x1="54.50" y1="512.41" x2="54.50" y2="515.21" stroke="#4e5562" stroke-width="0.9"/>
<line x1="72.00" y1="517.16" x2="76.50" y2="517.16" stroke="#5a5f6a" stroke-width="1.0"/>
<line x1="76.50" y1="515.76" x2="76.50" y2="518.56" stroke="#4e5562" stroke-width="0.9"/>
<line x1="72.00" y1="520.50" x2="81.30" y2="520.50" stroke="#5a5f6a" stroke-width="1.0"/>
<line x1="81.30" y1="519.11" x2="81.30" y2="521.90" stroke="#4e5562" stroke-width="0.9"/>
<line x1="91.80" y1="523.85" x2="108.80" y2="523.85" stroke="#5a5f6a" stroke-width="1.0"/>
<line x1="108.80" y1="522.45" x2="108.80" y2="525.25" stroke="#4e5562" stroke-width="0.9"/>
<line x1="57.60" y1="527.19" x2="61.70" y2="527.19" stroke="#5a5f6a" stroke-width="1.0"/>
<line x1="61.70" y1="525.79" x2="61.70" y2="528.59" stroke="#4e5562" stroke-width="0.9"/>
<line x1="40.50" y1="530.54" x2="41.40" y2="530.54" stroke="#5a5f6a" stroke-width="1.0"/>
<line x1="41.40" y1="529.14" x2="41.40" y2="531.94" stroke="#4e5562" stroke-width="0.9"/>
<line x1="55.80" y1="533.88" x2="63.30" y2="533.88" stroke="#5a5f6a" stroke-width="1.0"/>
<line x1="63.30" y1="532.49" x2="63.30" y2="535.28" stroke="#4e5562" stroke-width="0.9"/>
<line x1="46.80" y1="537.23" x2="50.00" y2="537.23" stroke="#5a5f6a" stroke-width="1.0"/>
<line x1="50.00" y1="535.83" x2="50.00" y2="538.63" stroke="#4e5562" stroke-width="0.9"/>
<line x1="95.40" y1="540.57" x2="124.10" y2="540.57" stroke="#5a5f6a" stroke-width="1.0"/>
<line x1="124.10" y1="539.17" x2="124.10" y2="541.97" stroke="#4e5562" stroke-width="0.9"/>
<line x1="70.00" y1="543.92" x2="75.00" y2="543.92" stroke="#5a5f6a" stroke-width="1.0"/>
<line x1="75.00" y1="542.52" x2="75.00" y2="545.32" stroke="#4e5562" stroke-width="0.9"/>
<line x1="45.00" y1="547.26" x2="47.30" y2="547.26" stroke="#5a5f6a" stroke-width="1.0"/>
<line x1="47.30" y1="545.87" x2="47.30" y2="548.66" stroke="#4e5562" stroke-width="0.9"/>
<line x1="63.00" y1="550.61" x2="71.60" y2="550.61" stroke="#5a5f6a" stroke-width="1.0"/>
<line x1="71.60" y1="549.21" x2="71.60" y2="552.01" stroke="#4e5562" stroke-width="0.9"/>
<line x1="54.00" y1="553.95" x2="58.50" y2="553.95" stroke="#5a5f6a" stroke-width="1.0"/>
<line x1="58.50" y1="552.55" x2="58.50" y2="555.35" stroke="#4e5562" stroke-width="0.9"/>
<line x1="45.90" y1="557.30" x2="48.00" y2="557.30" stroke="#5a5f6a" stroke-width="1.0"/>
<line x1="48.00" y1="555.90" x2="48.00" y2="558.70" stroke="#4e5562" stroke-width="0.9"/>
<line x1="55.80" y1="560.64" x2="61.20" y2="560.64" stroke="#5a5f6a" stroke-width="1.0"/>
<line x1="61.20" y1="559.25" x2="61.20" y2="562.04" stroke="#4e5562" stroke-width="0.9"/>
<line x1="48.60" y1="563.99" x2="51.30" y2="563.99" stroke="#5a5f6a" stroke-width="1.0"/>
<line x1="51.30" y1="562.59" x2="51.30" y2="565.39" stroke="#4e5562" stroke-width="0.9"/>
<line x1="48.60" y1="567.34" x2="51.30" y2="567.34" stroke="#5a5f6a" stroke-width="1.0"/>
<line x1="51.30" y1="565.94" x2="51.30" y2="568.74" stroke="#4e5562" stroke-width="0.9"/>
<line x1="48.60" y1="570.68" x2="51.30" y2="570.68" stroke="#5a5f6a" stroke-width="1.0"/>
<line x1="51.30" y1="569.28" x2="51.30" y2="572.08" stroke="#4e5562" stroke-width="0.9"/>
<line x1="50.40" y1="574.02" x2="54.00" y2="574.02" stroke="#5a5f6a" stroke-width="1.0"/>
<line x1="54.00" y1="572.62" x2="54.00" y2="575.42" stroke="#4e5562" stroke-width="0.9"/>
<line x1="45.00" y1="577.37" x2="46.80" y2="577.37" stroke="#5a5f6a" stroke-width="1.0"/>
<line x1="46.80" y1="575.97" x2="46.80" y2="578.77" stroke="#4e5562" stroke-width="0.9"/>
<line x1="41.40" y1="580.72" x2="43.20" y2="580.72" stroke="#5a5f6a" stroke-width="1.0"/>
<line x1="43.20" y1="579.32" x2="43.20" y2="582.12" stroke="#4e5562" stroke-width="0.9"/>
<line x1="42.30" y1="584.06" x2="44.10" y2="584.06" stroke="#5a5f6a" stroke-width="1.0"/>
<line x1="44.10" y1="582.66" x2="44.10" y2="585.46" stroke="#4e5562" stroke-width="0.9"/>
<line x1="45.00" y1="587.40" x2="47.70" y2="587.40" stroke="#5a5f6a" stroke-width="1.0"/>
<line x1="47.70" y1="586.00" x2="47.70" y2="588.80" stroke="#4e5562" stroke-width="0.9"/>
<line x1="42.30" y1="590.75" x2="44.50" y2="590.75" stroke="#5a5f6a" stroke-width="1.0"/>
<line x1="44.50" y1="589.35" x2="44.50" y2="592.15" stroke="#4e5562" stroke-width="0.9"/>
<line x1="47.70" y1="594.10" x2="50.00" y2="594.10" stroke="#5a5f6a" stroke-width="1.0"/>
<line x1="50.00" y1="592.70" x2="50.00" y2="595.50" stroke="#4e5562" stroke-width="0.9"/>
<line x1="48.60" y1="597.44" x2="51.30" y2="597.44" stroke="#5a5f6a" stroke-width="1.0"/>
<line x1="51.30" y1="596.04" x2="51.30" y2="598.84" stroke="#4e5562" stroke-width="0.9"/>
<line x1="50.40" y1="600.78" x2="54.00" y2="600.78" stroke="#5a5f6a" stroke-width="1.0"/>
<line x1="54.00" y1="599.38" x2="54.00" y2="602.18" stroke="#4e5562" stroke-width="0.9"/>
<line x1="38.60" y1="604.13" x2="39.20" y2="604.13" stroke="#5a5f6a" stroke-width="1.0"/>
<line x1="39.20" y1="602.73" x2="39.20" y2="605.53" stroke="#4e5562" stroke-width="0.9"/>
<line x1="38.60" y1="607.48" x2="39.20" y2="607.48" stroke="#5a5f6a" stroke-width="1.0"/>
<line x1="39.20" y1="606.08" x2="39.20" y2="608.88" stroke="#4e5562" stroke-width="0.9"/>
<line x1="39.50" y1="610.82" x2="40.50" y2="610.82" stroke="#5a5f6a" stroke-width="1.0"/>
<line x1="40.50" y1="609.42" x2="40.50" y2="612.22" stroke="#4e5562" stroke-width="0.9"/>
<line x1="47.70" y1="614.16" x2="50.40" y2="614.16" stroke="#5a5f6a" stroke-width="1.0"/>
<line x1="50.40" y1="612.76" x2="50.40" y2="615.56" stroke="#4e5562" stroke-width="0.9"/>
<line x1="66.60" y1="617.51" x2="72.90" y2="617.51" stroke="#5a5f6a" stroke-width="1.0"/>
<line x1="72.90" y1="616.11" x2="72.90" y2="618.91" stroke="#4e5562" stroke-width="0.9"/>
<line x1="40.50" y1="620.86" x2="41.40" y2="620.86" stroke="#5a5f6a" stroke-width="1.0"/>
<line x1="41.40" y1="619.46" x2="41.40" y2="622.25" stroke="#4e5562" stroke-width="0.9"/>
<line x1="59.40" y1="624.20" x2="71.10" y2="624.20" stroke="#5a5f6a" stroke-width="1.0"/>
<line x1="71.10" y1="622.80" x2="71.10" y2="625.60" stroke="#4e5562" stroke-width="0.9"/>
<line x1="42.30" y1="627.54" x2="44.10" y2="627.54" stroke="#5a5f6a" stroke-width="1.0"/>
<line x1="44.10" y1="626.14" x2="44.10" y2="628.94" stroke="#4e5562" stroke-width="0.9"/>
<line x1="47.70" y1="630.89" x2="50.40" y2="630.89" stroke="#5a5f6a" stroke-width="1.0"/>
<line x1="50.40" y1="629.49" x2="50.40" y2="632.29" stroke="#4e5562" stroke-width="0.9"/>
<line x1="40.50" y1="634.24" x2="41.40" y2="634.24" stroke="#5a5f6a" stroke-width="1.0"/>
<line x1="41.40" y1="632.84" x2="41.40" y2="635.63" stroke="#4e5562" stroke-width="0.9"/>
<line x1="45.00" y1="637.58" x2="47.70" y2="637.58" stroke="#5a5f6a" stroke-width="1.0"/>
<line x1="47.70" y1="636.18" x2="47.70" y2="638.98" stroke="#4e5562" stroke-width="0.9"/>
<line x1="39.00" y1="640.92" x2="39.60" y2="640.92" stroke="#5a5f6a" stroke-width="1.0"/>
<line x1="39.60" y1="639.52" x2="39.60" y2="642.32" stroke="#4e5562" stroke-width="0.9"/>
<line x1="50.40" y1="644.27" x2="53.40" y2="644.27" stroke="#5a5f6a" stroke-width="1.0"/>
<line x1="53.40" y1="642.87" x2="53.40" y2="645.67" stroke="#4e5562" stroke-width="0.9"/>
<line x1="61.20" y1="647.62" x2="65.10" y2="647.62" stroke="#5a5f6a" stroke-width="1.0"/>
<line x1="65.10" y1="646.22" x2="65.10" y2="649.01" stroke="#4e5562" stroke-width="0.9"/>
<line x1="59.40" y1="650.96" x2="64.40" y2="650.96" stroke="#5a5f6a" stroke-width="1.0"/>
<line x1="64.40" y1="649.56" x2="64.40" y2="652.36" stroke="#4e5562" stroke-width="0.9"/>
<line x1="45.00" y1="654.30" x2="47.50" y2="654.30" stroke="#5a5f6a" stroke-width="1.0"/>
<line x1="47.50" y1="652.90" x2="47.50" y2="655.70" stroke="#4e5562" stroke-width="0.9"/>
<line x1="46.80" y1="657.65" x2="47.70" y2="657.65" stroke="#5a5f6a" stroke-width="1.0"/>
<line x1="47.70" y1="656.25" x2="47.70" y2="659.05" stroke="#4e5562" stroke-width="0.9"/>
<line x1="38.20" y1="661.00" x2="38.50" y2="661.00" stroke="#5a5f6a" stroke-width="1.0"/>
<line x1="38.50" y1="659.60" x2="38.50" y2="662.39" stroke="#4e5562" stroke-width="0.9"/>
<line x1="38.20" y1="664.34" x2="38.50" y2="664.34" stroke="#5a5f6a" stroke-width="1.0"/>
<line x1="38.50" y1="662.94" x2="38.50" y2="665.74" stroke="#4e5562" stroke-width="0.9"/>
<line x1="38.20" y1="667.68" x2="38.50" y2="667.68" stroke="#5a5f6a" stroke-width="1.0"/>
<line x1="38.50" y1="666.28" x2="38.50" y2="669.08" stroke="#4e5562" stroke-width="0.9"/>
<line x1="38.20" y1="671.03" x2="38.50" y2="671.03" stroke="#5a5f6a" stroke-width="1.0"/>
<line x1="38.50" y1="669.63" x2="38.50" y2="672.43" stroke="#4e5562" stroke-width="0.9"/>
<line x1="38.20" y1="674.38" x2="38.50" y2="674.38" stroke="#5a5f6a" stroke-width="1.0"/>
<line x1="38.50" y1="672.98" x2="38.50" y2="675.77" stroke="#4e5562" stroke-width="0.9"/>
<line x1="90.00" y1="681.10" x2="109.80" y2="681.10" stroke="#5a5f6a" stroke-width="1.0"/>
<line x1="109.80" y1="679.70" x2="109.80" y2="682.50" stroke="#4e5562" stroke-width="0.9"/>
<line x1="260" y1="44.4" x2="370" y2="44.4" stroke="#34466e" stroke-width="1.2"/>
<line x1="38.6" y1="659.6" x2="38.6" y2="676" stroke="#4e5562" stroke-width="0.9"/>
<line x1="38.3" y1="44.2" x2="517" y2="44.2" stroke="#3a3a3a" stroke-width="1"/>
<line x1="38.3" y1="41.7" x2="38.3" y2="44.2" stroke="#505050" stroke-width="0.9"/>
<text x="38.3" y="35.9" text-anchor="middle" textLength="4.2" lengthAdjust="spacingAndGlyphs" class="tk">0</text>
<line x1="95.9" y1="41.7" x2="95.9" y2="44.2" stroke="#505050" stroke-width="0.9"/>
<text x="95.9" y="35.9" text-anchor="middle" textLength="16.8" lengthAdjust="spacingAndGlyphs" class="tk">5000</text>
<line x1="153.4" y1="41.7" x2="153.4" y2="44.2" stroke="#505050" stroke-width="0.9"/>
<text x="153.4" y="35.9" text-anchor="middle" textLength="20.9" lengthAdjust="spacingAndGlyphs" class="tk">10000</text>
<line x1="211.2" y1="41.7" x2="211.2" y2="44.2" stroke="#505050" stroke-width="0.9"/>
<text x="211.2" y="35.9" text-anchor="middle" textLength="20.9" lengthAdjust="spacingAndGlyphs" class="tk">15000</text>
<line x1="268.6" y1="41.7" x2="268.6" y2="44.2" stroke="#505050" stroke-width="0.9"/>
<text x="268.6" y="35.9" text-anchor="middle" textLength="20.9" lengthAdjust="spacingAndGlyphs" class="tk">20000</text>
<line x1="326.1" y1="41.7" x2="326.1" y2="44.2" stroke="#505050" stroke-width="0.9"/>
<text x="326.1" y="35.9" text-anchor="middle" textLength="20.9" lengthAdjust="spacingAndGlyphs" class="tk">25000</text>
<line x1="384.0" y1="41.7" x2="384.0" y2="44.2" stroke="#505050" stroke-width="0.9"/>
<text x="384.0" y="35.9" text-anchor="middle" textLength="20.9" lengthAdjust="spacingAndGlyphs" class="tk">30000</text>
<line x1="442.2" y1="41.7" x2="442.2" y2="44.2" stroke="#505050" stroke-width="0.9"/>
<text x="442.2" y="35.9" text-anchor="middle" textLength="20.9" lengthAdjust="spacingAndGlyphs" class="tk">35000</text>
<line x1="499.4" y1="41.7" x2="499.4" y2="44.2" stroke="#505050" stroke-width="0.9"/>
<text x="499.4" y="35.9" text-anchor="middle" textLength="20.9" lengthAdjust="spacingAndGlyphs" class="tk">40000</text>
<path d="M35.9 43.60 H32.6 V240.40 H35.9" fill="none" stroke="#111" stroke-width="1.3"/>
<path d="M35.9 244.80 H32.6 V254.30 H35.9" fill="none" stroke="#111" stroke-width="1.3"/>
<path d="M35.9 258.40 H32.6 V267.30 H35.9" fill="none" stroke="#111" stroke-width="1.3"/>
<path d="M35.9 271.60 H32.6 V407.00 H35.9" fill="none" stroke="#111" stroke-width="1.3"/>
<path d="M35.9 412.80 H32.6 V452.60 H35.9" fill="none" stroke="#111" stroke-width="1.3"/>
<path d="M35.9 457.00 H32.6 V460.00 H35.9" fill="none" stroke="#111" stroke-width="1.8"/>
<path d="M35.9 464.30 H32.6 V482.70 H35.9" fill="none" stroke="#111" stroke-width="1.3"/>
<path d="M35.9 489.10 H32.6 V675.40 H35.9" fill="none" stroke="#111" stroke-width="1.3"/>
<path d="M35.9 679.40 H32.6 V681.80 H35.9" fill="none" stroke="#111" stroke-width="1.8"/>
<path d="M516.6 44.20 H523.1 V406.20 H516.6" fill="none" stroke="#000" stroke-width="1.6"/>
<path d="M516.6 410.20 H523.1 V482.30 H516.6" fill="none" stroke="#000" stroke-width="1.6"/>
<path d="M516.6 487.00 H523.1 V680.00 H516.6" fill="none" stroke="#000" stroke-width="1.6"/>
<text x="15.9" y="144.8" text-anchor="middle" textLength="26.2" lengthAdjust="spacingAndGlyphs" class="lab">PfEMP1s</text>
<text x="15.4" y="252.6" text-anchor="middle" textLength="18.9" lengthAdjust="spacingAndGlyphs" class="lab">RIFINs</text>
<text x="15.6" y="265.8" text-anchor="middle" textLength="26.9" lengthAdjust="spacingAndGlyphs" class="lab">STEVORs</text>
<text x="14.75" y="333.3" text-anchor="middle" textLength="17.3" lengthAdjust="spacingAndGlyphs" class="lab">Other</text>
<text x="14.55" y="341.6" text-anchor="middle" textLength="25.5" lengthAdjust="spacingAndGlyphs" class="lab">antigens</text>
<text x="15.9" y="434.8" text-anchor="middle" textLength="26.2" lengthAdjust="spacingAndGlyphs" class="lab">PfEMP1s</text>
<text x="15.5" y="460.7" text-anchor="middle" textLength="27.2" lengthAdjust="spacingAndGlyphs" class="lab">STEVORs</text>
<text x="14.8" y="471.1" text-anchor="middle" textLength="17.4" lengthAdjust="spacingAndGlyphs" class="lab">Other</text>
<text x="14.7" y="479.1" text-anchor="middle" textLength="25.8" lengthAdjust="spacingAndGlyphs" class="lab">antigens</text>
<text x="16.2" y="582.8" text-anchor="middle" textLength="26.6" lengthAdjust="spacingAndGlyphs" class="lab">PfEMP1s</text>
<text x="16.0" y="682.6" text-anchor="middle" textLength="27.0" lengthAdjust="spacingAndGlyphs" class="lab">STEVORs</text>
<text x="536.8" y="207.4" text-anchor="middle" textLength="19.5" lengthAdjust="spacingAndGlyphs" class="big">CM</text>
<text x="539.8" y="449.1" text-anchor="middle" textLength="28.3" lengthAdjust="spacingAndGlyphs" class="big">SMA</text>
<text x="539.7" y="565.8" text-anchor="middle" textLength="27.8" lengthAdjust="spacingAndGlyphs" class="big">Both</text>
<text x="539.9" y="583.9" text-anchor="middle" textLength="19.8" lengthAdjust="spacingAndGlyphs" class="big">CM</text>
<text x="539.4" y="601.4" text-anchor="middle" textLength="23.6" lengthAdjust="spacingAndGlyphs" class="big">And</text>
<text x="539.8" y="618.9" text-anchor="middle" textLength="28.2" lengthAdjust="spacingAndGlyphs" class="big">SMA</text>
<text x="280.75" y="11.5" text-anchor="middle" textLength="135.7" lengthAdjust="spacingAndGlyphs" class="big" style="font-size:13px">Fluorescence intensity</text>
<rect x="414.8" y="110.1" width="4.2" height="4" fill="#4f7fc0"/>
<text x="421.5" y="114.7" textLength="54.7" lengthAdjust="spacingAndGlyphs" class="leg">Unc Malaria Ctrl</text>
<rect x="414.8" y="136.1" width="4.2" height="4" fill="#e8141c"/>
<text x="421.5" y="140.4" textLength="18.8" lengthAdjust="spacingAndGlyphs" class="leg">Cases</text>
</svg>
</body></html>
